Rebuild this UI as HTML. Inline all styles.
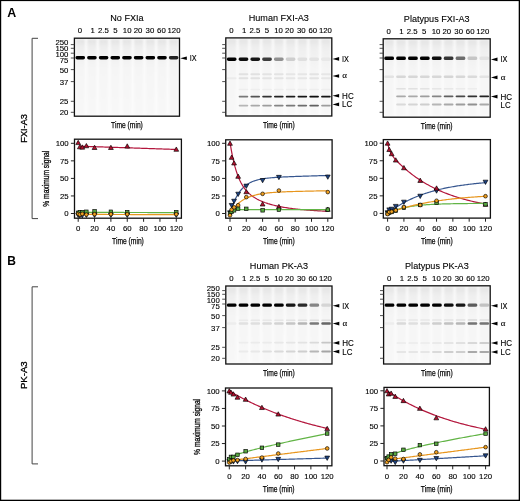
<!DOCTYPE html><html><head><meta charset="utf-8"><style>html,body{margin:0;padding:0;background:#fff;width:520px;height:501px;overflow:hidden;position:relative}</style></head><body><svg width="520" height="501" viewBox="0 0 520 501" style="position:absolute;left:0;top:0;will-change:transform">
<defs><filter id="bl1" x="-20%" y="-5%" width="140%" height="110%"><feGaussianBlur stdDeviation="0.8"/></filter><filter id="bl2" x="-30%" y="-100%" width="160%" height="300%"><feGaussianBlur stdDeviation="0.75 0.55"/></filter><linearGradient id="lanegrad" x1="0" y1="0" x2="0" y2="1"><stop offset="0" stop-color="#e3e3e3"/><stop offset="0.12" stop-color="#efefef"/><stop offset="0.4" stop-color="#f5f5f5"/><stop offset="1" stop-color="#f8f8f8"/></linearGradient></defs>
<rect width="520" height="501" fill="#fff"/>
<rect x="0" y="0" width="1.2" height="501" fill="#000"/><rect x="0" y="0" width="520" height="1.1" fill="#000"/><rect x="518.7" y="0" width="1.3" height="501" fill="#000"/><rect x="0" y="499.7" width="520" height="1.3" fill="#000"/>
<text x="7.20" y="16.50" font-family="Liberation Sans, sans-serif" font-size="12.4" font-weight="bold" text-anchor="start" fill="#000"  >A</text>
<text x="7.20" y="265.30" font-family="Liberation Sans, sans-serif" font-size="12.0" font-weight="bold" text-anchor="start" fill="#000"  >B</text>
<path d="M38,38.3 H32.1 V218.6 H38" fill="none" stroke="#444" stroke-width="1"/>
<path d="M38,286.8 H32.1 V463.9 H38" fill="none" stroke="#444" stroke-width="1"/>
<g transform="translate(23.40,128.40) rotate(-90)"><text x="0" y="3.53" font-family="Liberation Sans, sans-serif" font-size="9.8" text-anchor="middle" textLength="28.6" lengthAdjust="spacingAndGlyphs" fill="#000" stroke="#000" stroke-width="0.3">FXI-A3</text></g>
<g transform="translate(23.10,375.20) rotate(-90)"><text x="0" y="3.53" font-family="Liberation Sans, sans-serif" font-size="9.8" text-anchor="middle" textLength="27.8" lengthAdjust="spacingAndGlyphs" fill="#000" stroke="#000" stroke-width="0.3">PK-A3</text></g>
<text x="126.95" y="21.00" font-family="Liberation Sans, sans-serif" font-size="9.1" font-weight="normal" text-anchor="middle" fill="#000" stroke="#000" stroke-width="0.1" >No FXIa</text>
<text x="79.90" y="33.20" font-family="Liberation Sans, sans-serif" font-size="7.8" font-weight="normal" text-anchor="middle" fill="#000" stroke="#000" stroke-width="0.12" >0</text>
<text x="92.70" y="33.20" font-family="Liberation Sans, sans-serif" font-size="7.8" font-weight="normal" text-anchor="middle" fill="#000" stroke="#000" stroke-width="0.12" >1</text>
<text x="103.40" y="33.20" font-family="Liberation Sans, sans-serif" font-size="7.8" font-weight="normal" text-anchor="middle" fill="#000" stroke="#000" stroke-width="0.12" >2.5</text>
<text x="115.40" y="33.20" font-family="Liberation Sans, sans-serif" font-size="7.8" font-weight="normal" text-anchor="middle" fill="#000" stroke="#000" stroke-width="0.12" >5</text>
<text x="127.20" y="33.20" font-family="Liberation Sans, sans-serif" font-size="7.8" font-weight="normal" text-anchor="middle" fill="#000" stroke="#000" stroke-width="0.12" >10</text>
<text x="138.00" y="33.20" font-family="Liberation Sans, sans-serif" font-size="7.8" font-weight="normal" text-anchor="middle" fill="#000" stroke="#000" stroke-width="0.12" >20</text>
<text x="149.90" y="33.20" font-family="Liberation Sans, sans-serif" font-size="7.8" font-weight="normal" text-anchor="middle" fill="#000" stroke="#000" stroke-width="0.12" >30</text>
<text x="161.40" y="33.20" font-family="Liberation Sans, sans-serif" font-size="7.8" font-weight="normal" text-anchor="middle" fill="#000" stroke="#000" stroke-width="0.12" >60</text>
<text x="174.00" y="33.20" font-family="Liberation Sans, sans-serif" font-size="7.8" font-weight="normal" text-anchor="middle" fill="#000" stroke="#000" stroke-width="0.12" >120</text>
<rect x="74.4" y="38.2" width="105.1" height="78.0" fill="#fcfcfc"/>
<rect x="75.50" y="39.2" width="9.48" height="76.0" fill="url(#lanegrad)" filter="url(#bl1)"/>
<rect x="87.18" y="39.2" width="9.48" height="76.0" fill="url(#lanegrad)" filter="url(#bl1)"/>
<rect x="98.86" y="39.2" width="9.48" height="76.0" fill="url(#lanegrad)" filter="url(#bl1)"/>
<rect x="110.53" y="39.2" width="9.48" height="76.0" fill="url(#lanegrad)" filter="url(#bl1)"/>
<rect x="122.21" y="39.2" width="9.48" height="76.0" fill="url(#lanegrad)" filter="url(#bl1)"/>
<rect x="133.89" y="39.2" width="9.48" height="76.0" fill="url(#lanegrad)" filter="url(#bl1)"/>
<rect x="145.57" y="39.2" width="9.48" height="76.0" fill="url(#lanegrad)" filter="url(#bl1)"/>
<rect x="157.24" y="39.2" width="9.48" height="76.0" fill="url(#lanegrad)" filter="url(#bl1)"/>
<rect x="168.92" y="39.2" width="9.48" height="76.0" fill="url(#lanegrad)" filter="url(#bl1)"/>
<rect x="75.50" y="55.90" width="9.48" height="3.6" rx="1.80" ry="1.44" fill="rgb(0,0,0)" filter="url(#bl2)"/>
<rect x="87.18" y="55.90" width="9.48" height="3.6" rx="1.80" ry="1.44" fill="rgb(0,0,0)" filter="url(#bl2)"/>
<rect x="98.86" y="55.90" width="9.48" height="3.6" rx="1.80" ry="1.44" fill="rgb(0,0,0)" filter="url(#bl2)"/>
<rect x="110.53" y="55.90" width="9.48" height="3.6" rx="1.80" ry="1.44" fill="rgb(0,0,0)" filter="url(#bl2)"/>
<rect x="122.21" y="55.90" width="9.48" height="3.6" rx="1.80" ry="1.44" fill="rgb(0,0,0)" filter="url(#bl2)"/>
<rect x="133.89" y="55.90" width="9.48" height="3.6" rx="1.80" ry="1.44" fill="rgb(0,0,0)" filter="url(#bl2)"/>
<rect x="145.57" y="55.90" width="9.48" height="3.6" rx="1.80" ry="1.44" fill="rgb(0,0,0)" filter="url(#bl2)"/>
<rect x="157.24" y="55.90" width="9.48" height="3.6" rx="1.80" ry="1.44" fill="rgb(0,0,0)" filter="url(#bl2)"/>
<rect x="168.92" y="55.90" width="9.48" height="3.6" rx="1.80" ry="1.44" fill="rgb(36,36,36)" filter="url(#bl2)"/>
<rect x="74.4" y="38.2" width="105.1" height="78.0" fill="none" stroke="#111" stroke-width="1.3"/>
<line x1="70.80000000000001" y1="44.60" x2="74.4" y2="44.60" stroke="#333" stroke-width="0.85"/>
<line x1="70.80000000000001" y1="48.30" x2="74.4" y2="48.30" stroke="#333" stroke-width="0.85"/>
<line x1="70.80000000000001" y1="53.20" x2="74.4" y2="53.20" stroke="#333" stroke-width="0.85"/>
<line x1="70.80000000000001" y1="58.00" x2="74.4" y2="58.00" stroke="#333" stroke-width="0.85"/>
<line x1="70.80000000000001" y1="69.60" x2="74.4" y2="69.60" stroke="#333" stroke-width="0.85"/>
<line x1="70.80000000000001" y1="81.60" x2="74.4" y2="81.60" stroke="#333" stroke-width="0.85"/>
<line x1="70.80000000000001" y1="101.30" x2="74.4" y2="101.30" stroke="#333" stroke-width="0.85"/>
<line x1="70.80000000000001" y1="112.30" x2="74.4" y2="112.30" stroke="#333" stroke-width="0.85"/>
<text x="68.40" y="45.30" font-family="Liberation Sans, sans-serif" font-size="7.8" font-weight="normal" text-anchor="end" fill="#000" stroke="#000" stroke-width="0.12" >250</text>
<text x="68.40" y="51.10" font-family="Liberation Sans, sans-serif" font-size="7.8" font-weight="normal" text-anchor="end" fill="#000" stroke="#000" stroke-width="0.12" >150</text>
<text x="68.40" y="57.00" font-family="Liberation Sans, sans-serif" font-size="7.8" font-weight="normal" text-anchor="end" fill="#000" stroke="#000" stroke-width="0.12" >100</text>
<text x="68.40" y="63.00" font-family="Liberation Sans, sans-serif" font-size="7.8" font-weight="normal" text-anchor="end" fill="#000" stroke="#000" stroke-width="0.12" >75</text>
<text x="68.40" y="73.20" font-family="Liberation Sans, sans-serif" font-size="7.8" font-weight="normal" text-anchor="end" fill="#000" stroke="#000" stroke-width="0.12" >50</text>
<text x="68.40" y="84.70" font-family="Liberation Sans, sans-serif" font-size="7.8" font-weight="normal" text-anchor="end" fill="#000" stroke="#000" stroke-width="0.12" >37</text>
<text x="68.40" y="103.90" font-family="Liberation Sans, sans-serif" font-size="7.8" font-weight="normal" text-anchor="end" fill="#000" stroke="#000" stroke-width="0.12" >25</text>
<text x="68.40" y="114.90" font-family="Liberation Sans, sans-serif" font-size="7.8" font-weight="normal" text-anchor="end" fill="#000" stroke="#000" stroke-width="0.12" >20</text>
<path d="M180.2,58.20 L186.8,56.40 L186.8,60.00 Z" fill="#000"/>
<text x="189.80" y="61.10" font-family="Liberation Sans, sans-serif" font-size="8.6" font-weight="normal" text-anchor="start" fill="#000" stroke="#000" stroke-width="0.12" textLength="6.9" lengthAdjust="spacingAndGlyphs">IX</text>
<text x="111.05" y="127.70" font-family="Liberation Sans, sans-serif" font-size="9.6" textLength="31.8" lengthAdjust="spacingAndGlyphs" fill="#000" stroke="#000" stroke-width="0.25">Time (min)</text>
<text x="278.80" y="20.70" font-family="Liberation Sans, sans-serif" font-size="9.1" font-weight="normal" text-anchor="middle" fill="#000" stroke="#000" stroke-width="0.1" >Human FXI-A3</text>
<text x="231.30" y="32.90" font-family="Liberation Sans, sans-serif" font-size="7.8" font-weight="normal" text-anchor="middle" fill="#000" stroke="#000" stroke-width="0.12" >0</text>
<text x="244.10" y="32.90" font-family="Liberation Sans, sans-serif" font-size="7.8" font-weight="normal" text-anchor="middle" fill="#000" stroke="#000" stroke-width="0.12" >1</text>
<text x="254.80" y="32.90" font-family="Liberation Sans, sans-serif" font-size="7.8" font-weight="normal" text-anchor="middle" fill="#000" stroke="#000" stroke-width="0.12" >2.5</text>
<text x="266.80" y="32.90" font-family="Liberation Sans, sans-serif" font-size="7.8" font-weight="normal" text-anchor="middle" fill="#000" stroke="#000" stroke-width="0.12" >5</text>
<text x="278.60" y="32.90" font-family="Liberation Sans, sans-serif" font-size="7.8" font-weight="normal" text-anchor="middle" fill="#000" stroke="#000" stroke-width="0.12" >10</text>
<text x="289.40" y="32.90" font-family="Liberation Sans, sans-serif" font-size="7.8" font-weight="normal" text-anchor="middle" fill="#000" stroke="#000" stroke-width="0.12" >20</text>
<text x="301.30" y="32.90" font-family="Liberation Sans, sans-serif" font-size="7.8" font-weight="normal" text-anchor="middle" fill="#000" stroke="#000" stroke-width="0.12" >30</text>
<text x="312.80" y="32.90" font-family="Liberation Sans, sans-serif" font-size="7.8" font-weight="normal" text-anchor="middle" fill="#000" stroke="#000" stroke-width="0.12" >60</text>
<text x="325.40" y="32.90" font-family="Liberation Sans, sans-serif" font-size="7.8" font-weight="normal" text-anchor="middle" fill="#000" stroke="#000" stroke-width="0.12" >120</text>
<rect x="225.8" y="37.9" width="106.0" height="78.1" fill="#fcfcfc"/>
<rect x="226.90" y="38.9" width="9.58" height="76.1" fill="url(#lanegrad)" filter="url(#bl1)"/>
<rect x="238.68" y="38.9" width="9.58" height="76.1" fill="url(#lanegrad)" filter="url(#bl1)"/>
<rect x="250.46" y="38.9" width="9.58" height="76.1" fill="url(#lanegrad)" filter="url(#bl1)"/>
<rect x="262.23" y="38.9" width="9.58" height="76.1" fill="url(#lanegrad)" filter="url(#bl1)"/>
<rect x="274.01" y="38.9" width="9.58" height="76.1" fill="url(#lanegrad)" filter="url(#bl1)"/>
<rect x="285.79" y="38.9" width="9.58" height="76.1" fill="url(#lanegrad)" filter="url(#bl1)"/>
<rect x="297.57" y="38.9" width="9.58" height="76.1" fill="url(#lanegrad)" filter="url(#bl1)"/>
<rect x="309.34" y="38.9" width="9.58" height="76.1" fill="url(#lanegrad)" filter="url(#bl1)"/>
<rect x="321.12" y="38.9" width="9.58" height="76.1" fill="url(#lanegrad)" filter="url(#bl1)"/>
<rect x="226.90" y="57.40" width="9.58" height="3.6" rx="1.80" ry="1.44" fill="rgb(0,0,0)" filter="url(#bl2)"/>
<rect x="238.68" y="57.40" width="9.58" height="3.6" rx="1.80" ry="1.44" fill="rgb(12,12,12)" filter="url(#bl2)"/>
<rect x="250.46" y="57.40" width="9.58" height="3.6" rx="1.80" ry="1.44" fill="rgb(24,24,24)" filter="url(#bl2)"/>
<rect x="262.23" y="57.40" width="9.58" height="3.6" rx="1.80" ry="1.44" fill="rgb(60,60,60)" filter="url(#bl2)"/>
<rect x="274.01" y="57.40" width="9.58" height="3.6" rx="1.80" ry="1.44" fill="rgb(145,145,145)" filter="url(#bl2)"/>
<rect x="285.79" y="57.40" width="9.58" height="3.6" rx="1.80" ry="1.44" fill="rgb(206,206,206)" filter="url(#bl2)"/>
<rect x="297.57" y="57.40" width="9.58" height="3.6" rx="1.80" ry="1.44" fill="rgb(223,223,223)" filter="url(#bl2)"/>
<rect x="309.34" y="57.40" width="9.58" height="3.6" rx="1.80" ry="1.44" fill="rgb(227,227,227)" filter="url(#bl2)"/>
<rect x="321.12" y="57.40" width="9.58" height="3.6" rx="1.80" ry="1.44" fill="rgb(232,232,232)" filter="url(#bl2)"/>
<rect x="238.68" y="73.35" width="9.58" height="1.9" rx="0.95" ry="0.76" fill="rgb(225,225,225)" filter="url(#bl2)"/>
<rect x="250.46" y="73.35" width="9.58" height="1.9" rx="0.95" ry="0.76" fill="rgb(225,225,225)" filter="url(#bl2)"/>
<rect x="262.23" y="73.35" width="9.58" height="1.9" rx="0.95" ry="0.76" fill="rgb(227,227,227)" filter="url(#bl2)"/>
<rect x="274.01" y="73.35" width="9.58" height="1.9" rx="0.95" ry="0.76" fill="rgb(227,227,227)" filter="url(#bl2)"/>
<rect x="285.79" y="73.35" width="9.58" height="1.9" rx="0.95" ry="0.76" fill="rgb(230,230,230)" filter="url(#bl2)"/>
<rect x="297.57" y="73.35" width="9.58" height="1.9" rx="0.95" ry="0.76" fill="rgb(230,230,230)" filter="url(#bl2)"/>
<rect x="309.34" y="73.35" width="9.58" height="1.9" rx="0.95" ry="0.76" fill="rgb(227,227,227)" filter="url(#bl2)"/>
<rect x="321.12" y="73.35" width="9.58" height="1.9" rx="0.95" ry="0.76" fill="rgb(230,230,230)" filter="url(#bl2)"/>
<rect x="226.90" y="77.25" width="9.58" height="1.9" rx="0.95" ry="0.76" fill="rgb(235,235,235)" filter="url(#bl2)"/>
<rect x="238.68" y="77.25" width="9.58" height="1.9" rx="0.95" ry="0.76" fill="rgb(225,225,225)" filter="url(#bl2)"/>
<rect x="250.46" y="77.25" width="9.58" height="1.9" rx="0.95" ry="0.76" fill="rgb(225,225,225)" filter="url(#bl2)"/>
<rect x="262.23" y="77.25" width="9.58" height="1.9" rx="0.95" ry="0.76" fill="rgb(227,227,227)" filter="url(#bl2)"/>
<rect x="274.01" y="77.25" width="9.58" height="1.9" rx="0.95" ry="0.76" fill="rgb(227,227,227)" filter="url(#bl2)"/>
<rect x="285.79" y="77.25" width="9.58" height="1.9" rx="0.95" ry="0.76" fill="rgb(230,230,230)" filter="url(#bl2)"/>
<rect x="297.57" y="77.25" width="9.58" height="1.9" rx="0.95" ry="0.76" fill="rgb(230,230,230)" filter="url(#bl2)"/>
<rect x="309.34" y="77.25" width="9.58" height="1.9" rx="0.95" ry="0.76" fill="rgb(227,227,227)" filter="url(#bl2)"/>
<rect x="321.12" y="77.25" width="9.58" height="1.9" rx="0.95" ry="0.76" fill="rgb(230,230,230)" filter="url(#bl2)"/>
<rect x="238.68" y="88.65" width="9.58" height="1.5" rx="0.75" ry="0.60" fill="rgb(238,238,238)" filter="url(#bl2)"/>
<rect x="250.46" y="88.65" width="9.58" height="1.5" rx="0.75" ry="0.60" fill="rgb(238,238,238)" filter="url(#bl2)"/>
<rect x="262.23" y="88.65" width="9.58" height="1.5" rx="0.75" ry="0.60" fill="rgb(238,238,238)" filter="url(#bl2)"/>
<rect x="274.01" y="88.65" width="9.58" height="1.5" rx="0.75" ry="0.60" fill="rgb(238,238,238)" filter="url(#bl2)"/>
<rect x="285.79" y="88.65" width="9.58" height="1.5" rx="0.75" ry="0.60" fill="rgb(238,238,238)" filter="url(#bl2)"/>
<rect x="297.57" y="88.65" width="9.58" height="1.5" rx="0.75" ry="0.60" fill="rgb(238,238,238)" filter="url(#bl2)"/>
<rect x="309.34" y="88.65" width="9.58" height="1.5" rx="0.75" ry="0.60" fill="rgb(238,238,238)" filter="url(#bl2)"/>
<rect x="321.12" y="88.65" width="9.58" height="1.5" rx="0.75" ry="0.60" fill="rgb(238,238,238)" filter="url(#bl2)"/>
<rect x="238.68" y="95.75" width="9.58" height="1.7" rx="0.85" ry="0.68" fill="rgb(121,121,121)" filter="url(#bl2)"/>
<rect x="250.46" y="95.75" width="9.58" height="1.7" rx="0.85" ry="0.68" fill="rgb(85,85,85)" filter="url(#bl2)"/>
<rect x="262.23" y="95.75" width="9.58" height="1.7" rx="0.85" ry="0.68" fill="rgb(48,48,48)" filter="url(#bl2)"/>
<rect x="274.01" y="95.75" width="9.58" height="1.7" rx="0.85" ry="0.68" fill="rgb(36,36,36)" filter="url(#bl2)"/>
<rect x="285.79" y="95.75" width="9.58" height="1.7" rx="0.85" ry="0.68" fill="rgb(31,31,31)" filter="url(#bl2)"/>
<rect x="297.57" y="95.75" width="9.58" height="1.7" rx="0.85" ry="0.68" fill="rgb(24,24,24)" filter="url(#bl2)"/>
<rect x="309.34" y="95.75" width="9.58" height="1.7" rx="0.85" ry="0.68" fill="rgb(12,12,12)" filter="url(#bl2)"/>
<rect x="321.12" y="95.75" width="9.58" height="1.7" rx="0.85" ry="0.68" fill="rgb(19,19,19)" filter="url(#bl2)"/>
<rect x="238.68" y="104.65" width="9.58" height="1.9" rx="0.95" ry="0.76" fill="rgb(182,182,182)" filter="url(#bl2)"/>
<rect x="250.46" y="104.65" width="9.58" height="1.9" rx="0.95" ry="0.76" fill="rgb(169,169,169)" filter="url(#bl2)"/>
<rect x="262.23" y="104.65" width="9.58" height="1.9" rx="0.95" ry="0.76" fill="rgb(157,157,157)" filter="url(#bl2)"/>
<rect x="274.01" y="104.65" width="9.58" height="1.9" rx="0.95" ry="0.76" fill="rgb(133,133,133)" filter="url(#bl2)"/>
<rect x="285.79" y="104.65" width="9.58" height="1.9" rx="0.95" ry="0.76" fill="rgb(121,121,121)" filter="url(#bl2)"/>
<rect x="297.57" y="104.65" width="9.58" height="1.9" rx="0.95" ry="0.76" fill="rgb(109,109,109)" filter="url(#bl2)"/>
<rect x="309.34" y="104.65" width="9.58" height="1.9" rx="0.95" ry="0.76" fill="rgb(97,97,97)" filter="url(#bl2)"/>
<rect x="321.12" y="104.65" width="9.58" height="1.9" rx="0.95" ry="0.76" fill="rgb(157,157,157)" filter="url(#bl2)"/>
<rect x="225.8" y="37.9" width="106.0" height="78.1" fill="none" stroke="#111" stroke-width="1.3"/>
<line x1="222.20000000000002" y1="44.60" x2="225.8" y2="44.60" stroke="#333" stroke-width="0.85"/>
<line x1="222.20000000000002" y1="48.30" x2="225.8" y2="48.30" stroke="#333" stroke-width="0.85"/>
<line x1="222.20000000000002" y1="53.20" x2="225.8" y2="53.20" stroke="#333" stroke-width="0.85"/>
<line x1="222.20000000000002" y1="58.00" x2="225.8" y2="58.00" stroke="#333" stroke-width="0.85"/>
<line x1="222.20000000000002" y1="69.60" x2="225.8" y2="69.60" stroke="#333" stroke-width="0.85"/>
<line x1="222.20000000000002" y1="81.60" x2="225.8" y2="81.60" stroke="#333" stroke-width="0.85"/>
<line x1="222.20000000000002" y1="101.30" x2="225.8" y2="101.30" stroke="#333" stroke-width="0.85"/>
<line x1="222.20000000000002" y1="112.30" x2="225.8" y2="112.30" stroke="#333" stroke-width="0.85"/>
<path d="M332.5,58.90 L339.1,57.10 L339.1,60.70 Z" fill="#000"/>
<text x="342.10" y="61.80" font-family="Liberation Sans, sans-serif" font-size="8.6" font-weight="normal" text-anchor="start" fill="#000" stroke="#000" stroke-width="0.12" textLength="6.9" lengthAdjust="spacingAndGlyphs">IX</text>
<path d="M332.5,76.00 L339.1,74.20 L339.1,77.80 Z" fill="#000"/>
<text x="342.30" y="78.30" font-family="Liberation Serif, sans-serif" font-size="9.0" font-weight="normal" text-anchor="start" fill="#000" stroke="#000" stroke-width="0.1" >α</text>
<path d="M332.5,95.80 L339.1,94.00 L339.1,97.60 Z" fill="#000"/>
<text x="342.10" y="98.70" font-family="Liberation Sans, sans-serif" font-size="8.6" font-weight="normal" text-anchor="start" fill="#000" stroke="#000" stroke-width="0.12" textLength="11.6" lengthAdjust="spacingAndGlyphs">HC</text>
<path d="M332.5,104.40 L339.1,102.60 L339.1,106.20 Z" fill="#000"/>
<text x="342.10" y="107.30" font-family="Liberation Sans, sans-serif" font-size="8.6" font-weight="normal" text-anchor="start" fill="#000" stroke="#000" stroke-width="0.12" textLength="10.1" lengthAdjust="spacingAndGlyphs">LC</text>
<text x="262.90" y="127.50" font-family="Liberation Sans, sans-serif" font-size="9.6" textLength="31.8" lengthAdjust="spacingAndGlyphs" fill="#000" stroke="#000" stroke-width="0.25">Time (min)</text>
<text x="436.70" y="21.60" font-family="Liberation Sans, sans-serif" font-size="9.1" font-weight="normal" text-anchor="middle" fill="#000" stroke="#000" stroke-width="0.1" >Platypus FXI-A3</text>
<text x="388.70" y="33.80" font-family="Liberation Sans, sans-serif" font-size="7.8" font-weight="normal" text-anchor="middle" fill="#000" stroke="#000" stroke-width="0.12" >0</text>
<text x="401.50" y="33.80" font-family="Liberation Sans, sans-serif" font-size="7.8" font-weight="normal" text-anchor="middle" fill="#000" stroke="#000" stroke-width="0.12" >1</text>
<text x="412.20" y="33.80" font-family="Liberation Sans, sans-serif" font-size="7.8" font-weight="normal" text-anchor="middle" fill="#000" stroke="#000" stroke-width="0.12" >2.5</text>
<text x="424.20" y="33.80" font-family="Liberation Sans, sans-serif" font-size="7.8" font-weight="normal" text-anchor="middle" fill="#000" stroke="#000" stroke-width="0.12" >5</text>
<text x="436.00" y="33.80" font-family="Liberation Sans, sans-serif" font-size="7.8" font-weight="normal" text-anchor="middle" fill="#000" stroke="#000" stroke-width="0.12" >10</text>
<text x="446.80" y="33.80" font-family="Liberation Sans, sans-serif" font-size="7.8" font-weight="normal" text-anchor="middle" fill="#000" stroke="#000" stroke-width="0.12" >20</text>
<text x="458.70" y="33.80" font-family="Liberation Sans, sans-serif" font-size="7.8" font-weight="normal" text-anchor="middle" fill="#000" stroke="#000" stroke-width="0.12" >30</text>
<text x="470.20" y="33.80" font-family="Liberation Sans, sans-serif" font-size="7.8" font-weight="normal" text-anchor="middle" fill="#000" stroke="#000" stroke-width="0.12" >60</text>
<text x="482.80" y="33.80" font-family="Liberation Sans, sans-serif" font-size="7.8" font-weight="normal" text-anchor="middle" fill="#000" stroke="#000" stroke-width="0.12" >120</text>
<rect x="383.2" y="38.8" width="107.0" height="78.4" fill="#fcfcfc"/>
<rect x="384.30" y="39.8" width="9.69" height="76.4" fill="url(#lanegrad)" filter="url(#bl1)"/>
<rect x="396.19" y="39.8" width="9.69" height="76.4" fill="url(#lanegrad)" filter="url(#bl1)"/>
<rect x="408.08" y="39.8" width="9.69" height="76.4" fill="url(#lanegrad)" filter="url(#bl1)"/>
<rect x="419.97" y="39.8" width="9.69" height="76.4" fill="url(#lanegrad)" filter="url(#bl1)"/>
<rect x="431.86" y="39.8" width="9.69" height="76.4" fill="url(#lanegrad)" filter="url(#bl1)"/>
<rect x="443.74" y="39.8" width="9.69" height="76.4" fill="url(#lanegrad)" filter="url(#bl1)"/>
<rect x="455.63" y="39.8" width="9.69" height="76.4" fill="url(#lanegrad)" filter="url(#bl1)"/>
<rect x="467.52" y="39.8" width="9.69" height="76.4" fill="url(#lanegrad)" filter="url(#bl1)"/>
<rect x="479.41" y="39.8" width="9.69" height="76.4" fill="url(#lanegrad)" filter="url(#bl1)"/>
<rect x="384.30" y="56.50" width="9.69" height="3.6" rx="1.80" ry="1.44" fill="rgb(0,0,0)" filter="url(#bl2)"/>
<rect x="396.19" y="56.50" width="9.69" height="3.6" rx="1.80" ry="1.44" fill="rgb(0,0,0)" filter="url(#bl2)"/>
<rect x="408.08" y="56.50" width="9.69" height="3.6" rx="1.80" ry="1.44" fill="rgb(0,0,0)" filter="url(#bl2)"/>
<rect x="419.97" y="56.50" width="9.69" height="3.6" rx="1.80" ry="1.44" fill="rgb(0,0,0)" filter="url(#bl2)"/>
<rect x="431.86" y="56.50" width="9.69" height="3.6" rx="1.80" ry="1.44" fill="rgb(12,12,12)" filter="url(#bl2)"/>
<rect x="443.74" y="56.50" width="9.69" height="3.6" rx="1.80" ry="1.44" fill="rgb(53,53,53)" filter="url(#bl2)"/>
<rect x="455.63" y="56.50" width="9.69" height="3.6" rx="1.80" ry="1.44" fill="rgb(109,109,109)" filter="url(#bl2)"/>
<rect x="467.52" y="56.50" width="9.69" height="3.6" rx="1.80" ry="1.44" fill="rgb(198,198,198)" filter="url(#bl2)"/>
<rect x="479.41" y="56.50" width="9.69" height="3.6" rx="1.80" ry="1.44" fill="rgb(227,227,227)" filter="url(#bl2)"/>
<rect x="384.30" y="75.40" width="9.69" height="2.6" rx="1.30" ry="1.04" fill="rgb(227,227,227)" filter="url(#bl2)"/>
<rect x="396.19" y="75.40" width="9.69" height="2.6" rx="1.30" ry="1.04" fill="rgb(215,215,215)" filter="url(#bl2)"/>
<rect x="408.08" y="75.40" width="9.69" height="2.6" rx="1.30" ry="1.04" fill="rgb(215,215,215)" filter="url(#bl2)"/>
<rect x="419.97" y="75.40" width="9.69" height="2.6" rx="1.30" ry="1.04" fill="rgb(215,215,215)" filter="url(#bl2)"/>
<rect x="431.86" y="75.40" width="9.69" height="2.6" rx="1.30" ry="1.04" fill="rgb(215,215,215)" filter="url(#bl2)"/>
<rect x="443.74" y="75.40" width="9.69" height="2.6" rx="1.30" ry="1.04" fill="rgb(213,213,213)" filter="url(#bl2)"/>
<rect x="455.63" y="75.40" width="9.69" height="2.6" rx="1.30" ry="1.04" fill="rgb(215,215,215)" filter="url(#bl2)"/>
<rect x="467.52" y="75.40" width="9.69" height="2.6" rx="1.30" ry="1.04" fill="rgb(218,218,218)" filter="url(#bl2)"/>
<rect x="479.41" y="75.40" width="9.69" height="2.6" rx="1.30" ry="1.04" fill="rgb(227,227,227)" filter="url(#bl2)"/>
<rect x="396.19" y="88.00" width="9.69" height="1.6" rx="0.80" ry="0.64" fill="rgb(225,225,225)" filter="url(#bl2)"/>
<rect x="408.08" y="88.00" width="9.69" height="1.6" rx="0.80" ry="0.64" fill="rgb(225,225,225)" filter="url(#bl2)"/>
<rect x="419.97" y="88.00" width="9.69" height="1.6" rx="0.80" ry="0.64" fill="rgb(227,227,227)" filter="url(#bl2)"/>
<rect x="431.86" y="88.00" width="9.69" height="1.6" rx="0.80" ry="0.64" fill="rgb(230,230,230)" filter="url(#bl2)"/>
<rect x="443.74" y="88.00" width="9.69" height="1.6" rx="0.80" ry="0.64" fill="rgb(232,232,232)" filter="url(#bl2)"/>
<rect x="455.63" y="88.00" width="9.69" height="1.6" rx="0.80" ry="0.64" fill="rgb(235,235,235)" filter="url(#bl2)"/>
<rect x="467.52" y="88.00" width="9.69" height="1.6" rx="0.80" ry="0.64" fill="rgb(237,237,237)" filter="url(#bl2)"/>
<rect x="396.19" y="95.55" width="9.69" height="1.7" rx="0.85" ry="0.68" fill="rgb(169,169,169)" filter="url(#bl2)"/>
<rect x="408.08" y="95.55" width="9.69" height="1.7" rx="0.85" ry="0.68" fill="rgb(169,169,169)" filter="url(#bl2)"/>
<rect x="419.97" y="95.55" width="9.69" height="1.7" rx="0.85" ry="0.68" fill="rgb(157,157,157)" filter="url(#bl2)"/>
<rect x="431.86" y="95.55" width="9.69" height="1.7" rx="0.85" ry="0.68" fill="rgb(133,133,133)" filter="url(#bl2)"/>
<rect x="443.74" y="95.55" width="9.69" height="1.7" rx="0.85" ry="0.68" fill="rgb(97,97,97)" filter="url(#bl2)"/>
<rect x="455.63" y="95.55" width="9.69" height="1.7" rx="0.85" ry="0.68" fill="rgb(73,73,73)" filter="url(#bl2)"/>
<rect x="467.52" y="95.55" width="9.69" height="1.7" rx="0.85" ry="0.68" fill="rgb(48,48,48)" filter="url(#bl2)"/>
<rect x="479.41" y="95.55" width="9.69" height="1.7" rx="0.85" ry="0.68" fill="rgb(36,36,36)" filter="url(#bl2)"/>
<rect x="396.19" y="103.55" width="9.69" height="1.9" rx="0.95" ry="0.76" fill="rgb(218,218,218)" filter="url(#bl2)"/>
<rect x="408.08" y="103.55" width="9.69" height="1.9" rx="0.95" ry="0.76" fill="rgb(213,213,213)" filter="url(#bl2)"/>
<rect x="419.97" y="103.55" width="9.69" height="1.9" rx="0.95" ry="0.76" fill="rgb(206,206,206)" filter="url(#bl2)"/>
<rect x="431.86" y="103.55" width="9.69" height="1.9" rx="0.95" ry="0.76" fill="rgb(182,182,182)" filter="url(#bl2)"/>
<rect x="443.74" y="103.55" width="9.69" height="1.9" rx="0.95" ry="0.76" fill="rgb(169,169,169)" filter="url(#bl2)"/>
<rect x="455.63" y="103.55" width="9.69" height="1.9" rx="0.95" ry="0.76" fill="rgb(157,157,157)" filter="url(#bl2)"/>
<rect x="467.52" y="103.55" width="9.69" height="1.9" rx="0.95" ry="0.76" fill="rgb(145,145,145)" filter="url(#bl2)"/>
<rect x="479.41" y="103.55" width="9.69" height="1.9" rx="0.95" ry="0.76" fill="rgb(169,169,169)" filter="url(#bl2)"/>
<rect x="383.2" y="38.8" width="107.0" height="78.4" fill="none" stroke="#111" stroke-width="1.3"/>
<line x1="379.59999999999997" y1="44.60" x2="383.2" y2="44.60" stroke="#333" stroke-width="0.85"/>
<line x1="379.59999999999997" y1="48.30" x2="383.2" y2="48.30" stroke="#333" stroke-width="0.85"/>
<line x1="379.59999999999997" y1="53.20" x2="383.2" y2="53.20" stroke="#333" stroke-width="0.85"/>
<line x1="379.59999999999997" y1="58.00" x2="383.2" y2="58.00" stroke="#333" stroke-width="0.85"/>
<line x1="379.59999999999997" y1="69.60" x2="383.2" y2="69.60" stroke="#333" stroke-width="0.85"/>
<line x1="379.59999999999997" y1="81.60" x2="383.2" y2="81.60" stroke="#333" stroke-width="0.85"/>
<line x1="379.59999999999997" y1="101.30" x2="383.2" y2="101.30" stroke="#333" stroke-width="0.85"/>
<line x1="379.59999999999997" y1="112.30" x2="383.2" y2="112.30" stroke="#333" stroke-width="0.85"/>
<path d="M490.9,59.40 L497.5,57.60 L497.5,61.20 Z" fill="#000"/>
<text x="500.50" y="62.30" font-family="Liberation Sans, sans-serif" font-size="8.6" font-weight="normal" text-anchor="start" fill="#000" stroke="#000" stroke-width="0.12" textLength="6.9" lengthAdjust="spacingAndGlyphs">IX</text>
<path d="M490.9,77.40 L497.5,75.60 L497.5,79.20 Z" fill="#000"/>
<text x="500.70" y="79.70" font-family="Liberation Serif, sans-serif" font-size="9.0" font-weight="normal" text-anchor="start" fill="#000" stroke="#000" stroke-width="0.1" >α</text>
<path d="M490.9,96.60 L497.5,94.80 L497.5,98.40 Z" fill="#000"/>
<text x="500.50" y="99.50" font-family="Liberation Sans, sans-serif" font-size="8.6" font-weight="normal" text-anchor="start" fill="#000" stroke="#000" stroke-width="0.12" textLength="11.6" lengthAdjust="spacingAndGlyphs">HC</text>
<text x="500.50" y="107.70" font-family="Liberation Sans, sans-serif" font-size="8.6" font-weight="normal" text-anchor="start" fill="#000" stroke="#000" stroke-width="0.12" textLength="10.1" lengthAdjust="spacingAndGlyphs">LC</text>
<text x="420.80" y="128.70" font-family="Liberation Sans, sans-serif" font-size="9.6" textLength="31.8" lengthAdjust="spacingAndGlyphs" fill="#000" stroke="#000" stroke-width="0.25">Time (min)</text>
<rect x="74.5" y="139.2" width="106.9" height="79.0" fill="none" stroke="#111" stroke-width="1.3"/>
<line x1="70.9" y1="213.50" x2="74.5" y2="213.50" stroke="#222" stroke-width="1"/>
<text x="68.70" y="216.30" font-family="Liberation Sans, sans-serif" font-size="7.8" font-weight="normal" text-anchor="end" fill="#000" stroke="#000" stroke-width="0.12" >0</text>
<line x1="70.9" y1="195.95" x2="74.5" y2="195.95" stroke="#222" stroke-width="1"/>
<text x="68.70" y="198.75" font-family="Liberation Sans, sans-serif" font-size="7.8" font-weight="normal" text-anchor="end" fill="#000" stroke="#000" stroke-width="0.12" >25</text>
<line x1="70.9" y1="178.40" x2="74.5" y2="178.40" stroke="#222" stroke-width="1"/>
<text x="68.70" y="181.20" font-family="Liberation Sans, sans-serif" font-size="7.8" font-weight="normal" text-anchor="end" fill="#000" stroke="#000" stroke-width="0.12" >50</text>
<line x1="70.9" y1="160.85" x2="74.5" y2="160.85" stroke="#222" stroke-width="1"/>
<text x="68.70" y="163.65" font-family="Liberation Sans, sans-serif" font-size="7.8" font-weight="normal" text-anchor="end" fill="#000" stroke="#000" stroke-width="0.12" >75</text>
<line x1="70.9" y1="143.30" x2="74.5" y2="143.30" stroke="#222" stroke-width="1"/>
<text x="68.70" y="146.10" font-family="Liberation Sans, sans-serif" font-size="7.8" font-weight="normal" text-anchor="end" fill="#000" stroke="#000" stroke-width="0.12" >100</text>
<line x1="78.20" y1="218.2" x2="78.20" y2="221.79999999999998" stroke="#222" stroke-width="1"/>
<text x="78.20" y="231.20" font-family="Liberation Sans, sans-serif" font-size="7.8" font-weight="normal" text-anchor="middle" fill="#000" stroke="#000" stroke-width="0.12" >0</text>
<line x1="94.55" y1="218.2" x2="94.55" y2="221.79999999999998" stroke="#222" stroke-width="1"/>
<text x="94.55" y="231.20" font-family="Liberation Sans, sans-serif" font-size="7.8" font-weight="normal" text-anchor="middle" fill="#000" stroke="#000" stroke-width="0.12" >20</text>
<line x1="110.90" y1="218.2" x2="110.90" y2="221.79999999999998" stroke="#222" stroke-width="1"/>
<text x="110.90" y="231.20" font-family="Liberation Sans, sans-serif" font-size="7.8" font-weight="normal" text-anchor="middle" fill="#000" stroke="#000" stroke-width="0.12" >40</text>
<line x1="127.25" y1="218.2" x2="127.25" y2="221.79999999999998" stroke="#222" stroke-width="1"/>
<text x="127.25" y="231.20" font-family="Liberation Sans, sans-serif" font-size="7.8" font-weight="normal" text-anchor="middle" fill="#000" stroke="#000" stroke-width="0.12" >60</text>
<line x1="143.60" y1="218.2" x2="143.60" y2="221.79999999999998" stroke="#222" stroke-width="1"/>
<text x="143.60" y="231.20" font-family="Liberation Sans, sans-serif" font-size="7.8" font-weight="normal" text-anchor="middle" fill="#000" stroke="#000" stroke-width="0.12" >80</text>
<line x1="159.95" y1="218.2" x2="159.95" y2="221.79999999999998" stroke="#222" stroke-width="1"/>
<text x="159.95" y="231.20" font-family="Liberation Sans, sans-serif" font-size="7.8" font-weight="normal" text-anchor="middle" fill="#000" stroke="#000" stroke-width="0.12" >100</text>
<line x1="176.30" y1="218.2" x2="176.30" y2="221.79999999999998" stroke="#222" stroke-width="1"/>
<text x="176.30" y="231.20" font-family="Liberation Sans, sans-serif" font-size="7.8" font-weight="normal" text-anchor="middle" fill="#000" stroke="#000" stroke-width="0.12" >120</text>
<text x="112.05" y="244.20" font-family="Liberation Sans, sans-serif" font-size="9.6" textLength="31.8" lengthAdjust="spacingAndGlyphs" fill="#000" stroke="#000" stroke-width="0.25">Time (min)</text>
<g transform="translate(45.50,178.70) rotate(-90)"><text x="0" y="3.42" font-family="Liberation Sans, sans-serif" font-size="9.5" text-anchor="middle" textLength="56" lengthAdjust="spacingAndGlyphs" fill="#000" stroke="#000" stroke-width="0.3">% maximum signal</text></g>
<path d="M80.65,146.19 L81.88,146.23 L83.11,146.28 L84.33,146.32 L85.56,146.36 L86.78,146.40 L88.01,146.44 L89.24,146.49 L90.46,146.53 L91.69,146.57 L92.92,146.61 L94.14,146.66 L95.37,146.70 L96.59,146.74 L97.82,146.78 L99.05,146.82 L100.27,146.87 L101.50,146.91 L102.73,146.95 L103.95,146.99 L105.18,147.03 L106.40,147.08 L107.63,147.12 L108.86,147.16 L110.08,147.20 L111.31,147.25 L112.54,147.29 L113.76,147.33 L114.99,147.37 L116.21,147.41 L117.44,147.46 L118.67,147.50 L119.89,147.54 L121.12,147.58 L122.34,147.62 L123.57,147.67 L124.80,147.71 L126.02,147.75 L127.25,147.79 L128.48,147.83 L129.70,147.88 L130.93,147.92 L132.16,147.96 L133.38,148.00 L134.61,148.05 L135.83,148.09 L137.06,148.13 L138.29,148.17 L139.51,148.21 L140.74,148.26 L141.97,148.30 L143.19,148.34 L144.42,148.38 L145.64,148.42 L146.87,148.47 L148.10,148.51 L149.32,148.55 L150.55,148.59 L151.78,148.64 L153.00,148.68 L154.23,148.72 L155.45,148.76 L156.68,148.80 L157.91,148.85 L159.13,148.89 L160.36,148.93 L161.59,148.97 L162.81,149.01 L164.04,149.06 L165.26,149.10 L166.49,149.14 L167.72,149.18 L168.94,149.22 L170.17,149.27 L171.40,149.31 L172.62,149.35 L173.85,149.39 L175.07,149.44 L176.30,149.48" fill="none" stroke="#b3163c" stroke-width="1.2"/>
<path d="M83.11,212.39 L84.33,212.39 L85.56,212.39 L86.78,212.40 L88.01,212.40 L89.24,212.40 L90.46,212.40 L91.69,212.41 L92.92,212.41 L94.14,212.41 L95.37,212.41 L96.59,212.42 L97.82,212.42 L99.05,212.42 L100.27,212.42 L101.50,212.43 L102.73,212.43 L103.95,212.43 L105.18,212.43 L106.40,212.44 L107.63,212.44 L108.86,212.44 L110.08,212.45 L111.31,212.45 L112.54,212.45 L113.76,212.45 L114.99,212.46 L116.21,212.46 L117.44,212.46 L118.67,212.46 L119.89,212.47 L121.12,212.47 L122.34,212.47 L123.57,212.47 L124.80,212.48 L126.02,212.48 L127.25,212.48 L128.48,212.48 L129.70,212.49 L130.93,212.49 L132.16,212.49 L133.38,212.50 L134.61,212.50 L135.83,212.50 L137.06,212.50 L138.29,212.51 L139.51,212.51 L140.74,212.51 L141.97,212.51 L143.19,212.52 L144.42,212.52 L145.64,212.52 L146.87,212.52 L148.10,212.53 L149.32,212.53 L150.55,212.53 L151.78,212.53 L153.00,212.54 L154.23,212.54 L155.45,212.54 L156.68,212.55 L157.91,212.55 L159.13,212.55 L160.36,212.55 L161.59,212.56 L162.81,212.56 L164.04,212.56 L165.26,212.56 L166.49,212.57 L167.72,212.57 L168.94,212.57 L170.17,212.57 L171.40,212.58 L172.62,212.58 L173.85,212.58 L175.07,212.58 L176.30,212.59" fill="none" stroke="#62b446" stroke-width="1.2"/>
<path d="M83.11,214.42 L84.33,214.43 L85.56,214.43 L86.78,214.43 L88.01,214.43 L89.24,214.44 L90.46,214.44 L91.69,214.44 L92.92,214.44 L94.14,214.45 L95.37,214.45 L96.59,214.45 L97.82,214.45 L99.05,214.46 L100.27,214.46 L101.50,214.46 L102.73,214.47 L103.95,214.47 L105.18,214.47 L106.40,214.47 L107.63,214.48 L108.86,214.48 L110.08,214.48 L111.31,214.48 L112.54,214.49 L113.76,214.49 L114.99,214.49 L116.21,214.49 L117.44,214.50 L118.67,214.50 L119.89,214.50 L121.12,214.50 L122.34,214.51 L123.57,214.51 L124.80,214.51 L126.02,214.52 L127.25,214.52 L128.48,214.52 L129.70,214.52 L130.93,214.53 L132.16,214.53 L133.38,214.53 L134.61,214.53 L135.83,214.54 L137.06,214.54 L138.29,214.54 L139.51,214.54 L140.74,214.55 L141.97,214.55 L143.19,214.55 L144.42,214.55 L145.64,214.56 L146.87,214.56 L148.10,214.56 L149.32,214.57 L150.55,214.57 L151.78,214.57 L153.00,214.57 L154.23,214.58 L155.45,214.58 L156.68,214.58 L157.91,214.58 L159.13,214.59 L160.36,214.59 L161.59,214.59 L162.81,214.59 L164.04,214.60 L165.26,214.60 L166.49,214.60 L167.72,214.60 L168.94,214.61 L170.17,214.61 L171.40,214.61 L172.62,214.62 L173.85,214.62 L175.07,214.62 L176.30,214.62" fill="none" stroke="#e8961e" stroke-width="1.2"/>
<path d="M78.20,217.56 L80.60,213.25 L75.80,213.25 Z" fill="#1c4282" stroke="#000" stroke-width="0.65"/>
<path d="M79.84,217.91 L82.24,213.61 L77.44,213.61 Z" fill="#1c4282" stroke="#000" stroke-width="0.65"/>
<path d="M82.29,217.91 L84.69,213.61 L79.89,213.61 Z" fill="#1c4282" stroke="#000" stroke-width="0.65"/>
<path d="M86.38,217.56 L88.78,213.25 L83.97,213.25 Z" fill="#1c4282" stroke="#000" stroke-width="0.65"/>
<path d="M94.55,217.56 L96.95,213.25 L92.15,213.25 Z" fill="#1c4282" stroke="#000" stroke-width="0.65"/>
<path d="M110.90,217.56 L113.30,213.25 L108.50,213.25 Z" fill="#1c4282" stroke="#000" stroke-width="0.65"/>
<path d="M127.25,217.56 L129.65,213.25 L124.85,213.25 Z" fill="#1c4282" stroke="#000" stroke-width="0.65"/>
<path d="M176.30,217.56 L178.70,213.25 L173.90,213.25 Z" fill="#1c4282" stroke="#000" stroke-width="0.65"/>
<path d="M78.20,140.30 L80.60,144.60 L75.80,144.60 Z" fill="#b4102e" stroke="#000" stroke-width="0.65"/>
<path d="M79.84,144.51 L82.24,148.81 L77.44,148.81 Z" fill="#b4102e" stroke="#000" stroke-width="0.65"/>
<path d="M82.29,144.86 L84.69,149.16 L79.89,149.16 Z" fill="#b4102e" stroke="#000" stroke-width="0.65"/>
<path d="M86.38,143.46 L88.78,147.76 L83.97,147.76 Z" fill="#b4102e" stroke="#000" stroke-width="0.65"/>
<path d="M94.55,145.21 L96.95,149.51 L92.15,149.51 Z" fill="#b4102e" stroke="#000" stroke-width="0.65"/>
<path d="M110.90,145.21 L113.30,149.51 L108.50,149.51 Z" fill="#b4102e" stroke="#000" stroke-width="0.65"/>
<path d="M127.25,143.81 L129.65,148.11 L124.85,148.11 Z" fill="#b4102e" stroke="#000" stroke-width="0.65"/>
<path d="M176.30,146.97 L178.70,151.27 L173.90,151.27 Z" fill="#b4102e" stroke="#000" stroke-width="0.65"/>
<rect x="76.45" y="211.05" width="3.5" height="3.5" fill="#58a840" stroke="#000" stroke-width="0.65"/>
<rect x="78.09" y="210.35" width="3.5" height="3.5" fill="#58a840" stroke="#000" stroke-width="0.65"/>
<rect x="80.54" y="210.35" width="3.5" height="3.5" fill="#58a840" stroke="#000" stroke-width="0.65"/>
<rect x="84.62" y="210.00" width="3.5" height="3.5" fill="#58a840" stroke="#000" stroke-width="0.65"/>
<rect x="92.80" y="209.64" width="3.5" height="3.5" fill="#58a840" stroke="#000" stroke-width="0.65"/>
<rect x="109.15" y="210.00" width="3.5" height="3.5" fill="#58a840" stroke="#000" stroke-width="0.65"/>
<rect x="125.50" y="210.35" width="3.5" height="3.5" fill="#58a840" stroke="#000" stroke-width="0.65"/>
<rect x="174.55" y="210.35" width="3.5" height="3.5" fill="#58a840" stroke="#000" stroke-width="0.65"/>
<circle cx="78.20" cy="213.85" r="1.85" fill="#f0a020" stroke="#000" stroke-width="0.65"/>
<circle cx="79.84" cy="214.55" r="1.85" fill="#f0a020" stroke="#000" stroke-width="0.65"/>
<circle cx="82.29" cy="213.85" r="1.85" fill="#f0a020" stroke="#000" stroke-width="0.65"/>
<circle cx="86.38" cy="214.55" r="1.85" fill="#f0a020" stroke="#000" stroke-width="0.65"/>
<circle cx="94.55" cy="214.20" r="1.85" fill="#f0a020" stroke="#000" stroke-width="0.65"/>
<circle cx="110.90" cy="214.20" r="1.85" fill="#f0a020" stroke="#000" stroke-width="0.65"/>
<circle cx="127.25" cy="214.20" r="1.85" fill="#f0a020" stroke="#000" stroke-width="0.65"/>
<circle cx="176.30" cy="214.20" r="1.85" fill="#f0a020" stroke="#000" stroke-width="0.65"/>
<rect x="225.7" y="139.8" width="106.40000000000003" height="78.39999999999998" fill="none" stroke="#111" stroke-width="1.3"/>
<line x1="222.1" y1="213.50" x2="225.7" y2="213.50" stroke="#222" stroke-width="1"/>
<text x="219.90" y="216.30" font-family="Liberation Sans, sans-serif" font-size="7.8" font-weight="normal" text-anchor="end" fill="#000" stroke="#000" stroke-width="0.12" >0</text>
<line x1="222.1" y1="195.95" x2="225.7" y2="195.95" stroke="#222" stroke-width="1"/>
<text x="219.90" y="198.75" font-family="Liberation Sans, sans-serif" font-size="7.8" font-weight="normal" text-anchor="end" fill="#000" stroke="#000" stroke-width="0.12" >25</text>
<line x1="222.1" y1="178.40" x2="225.7" y2="178.40" stroke="#222" stroke-width="1"/>
<text x="219.90" y="181.20" font-family="Liberation Sans, sans-serif" font-size="7.8" font-weight="normal" text-anchor="end" fill="#000" stroke="#000" stroke-width="0.12" >50</text>
<line x1="222.1" y1="160.85" x2="225.7" y2="160.85" stroke="#222" stroke-width="1"/>
<text x="219.90" y="163.65" font-family="Liberation Sans, sans-serif" font-size="7.8" font-weight="normal" text-anchor="end" fill="#000" stroke="#000" stroke-width="0.12" >75</text>
<line x1="222.1" y1="143.30" x2="225.7" y2="143.30" stroke="#222" stroke-width="1"/>
<text x="219.90" y="146.10" font-family="Liberation Sans, sans-serif" font-size="7.8" font-weight="normal" text-anchor="end" fill="#000" stroke="#000" stroke-width="0.12" >100</text>
<line x1="230.00" y1="218.2" x2="230.00" y2="221.79999999999998" stroke="#222" stroke-width="1"/>
<text x="230.00" y="231.20" font-family="Liberation Sans, sans-serif" font-size="7.8" font-weight="normal" text-anchor="middle" fill="#000" stroke="#000" stroke-width="0.12" >0</text>
<line x1="246.30" y1="218.2" x2="246.30" y2="221.79999999999998" stroke="#222" stroke-width="1"/>
<text x="246.30" y="231.20" font-family="Liberation Sans, sans-serif" font-size="7.8" font-weight="normal" text-anchor="middle" fill="#000" stroke="#000" stroke-width="0.12" >20</text>
<line x1="262.60" y1="218.2" x2="262.60" y2="221.79999999999998" stroke="#222" stroke-width="1"/>
<text x="262.60" y="231.20" font-family="Liberation Sans, sans-serif" font-size="7.8" font-weight="normal" text-anchor="middle" fill="#000" stroke="#000" stroke-width="0.12" >40</text>
<line x1="278.90" y1="218.2" x2="278.90" y2="221.79999999999998" stroke="#222" stroke-width="1"/>
<text x="278.90" y="231.20" font-family="Liberation Sans, sans-serif" font-size="7.8" font-weight="normal" text-anchor="middle" fill="#000" stroke="#000" stroke-width="0.12" >60</text>
<line x1="295.20" y1="218.2" x2="295.20" y2="221.79999999999998" stroke="#222" stroke-width="1"/>
<text x="295.20" y="231.20" font-family="Liberation Sans, sans-serif" font-size="7.8" font-weight="normal" text-anchor="middle" fill="#000" stroke="#000" stroke-width="0.12" >80</text>
<line x1="311.50" y1="218.2" x2="311.50" y2="221.79999999999998" stroke="#222" stroke-width="1"/>
<text x="311.50" y="231.20" font-family="Liberation Sans, sans-serif" font-size="7.8" font-weight="normal" text-anchor="middle" fill="#000" stroke="#000" stroke-width="0.12" >100</text>
<line x1="327.80" y1="218.2" x2="327.80" y2="221.79999999999998" stroke="#222" stroke-width="1"/>
<text x="327.80" y="231.20" font-family="Liberation Sans, sans-serif" font-size="7.8" font-weight="normal" text-anchor="middle" fill="#000" stroke="#000" stroke-width="0.12" >120</text>
<text x="263.00" y="244.20" font-family="Liberation Sans, sans-serif" font-size="9.6" textLength="31.8" lengthAdjust="spacingAndGlyphs" fill="#000" stroke="#000" stroke-width="0.25">Time (min)</text>
<path d="M230.00,213.50 L231.22,209.49 L232.44,205.94 L233.67,202.78 L234.89,199.97 L236.11,197.48 L237.34,195.26 L238.56,193.30 L239.78,191.54 L241.00,189.99 L242.22,188.60 L243.45,187.37 L244.67,186.27 L245.89,185.30 L247.12,184.43 L248.34,183.65 L249.56,182.96 L250.78,182.34 L252.00,181.78 L253.23,181.29 L254.45,180.85 L255.67,180.45 L256.89,180.09 L258.12,179.77 L259.34,179.49 L260.56,179.23 L261.79,178.99 L263.01,178.78 L264.23,178.59 L265.45,178.41 L266.68,178.25 L267.90,178.11 L269.12,177.98 L270.34,177.85 L271.56,177.74 L272.79,177.64 L274.01,177.54 L275.23,177.45 L276.45,177.37 L277.68,177.29 L278.90,177.21 L280.12,177.15 L281.35,177.08 L282.57,177.02 L283.79,176.96 L285.01,176.90 L286.24,176.85 L287.46,176.79 L288.68,176.74 L289.90,176.69 L291.12,176.64 L292.35,176.60 L293.57,176.55 L294.79,176.51 L296.01,176.46 L297.24,176.42 L298.46,176.38 L299.68,176.34 L300.90,176.30 L302.13,176.26 L303.35,176.21 L304.57,176.18 L305.80,176.14 L307.02,176.10 L308.24,176.06 L309.46,176.02 L310.69,175.98 L311.91,175.94 L313.13,175.90 L314.35,175.87 L315.58,175.83 L316.80,175.79 L318.02,175.75 L319.24,175.72 L320.47,175.68 L321.69,175.64 L322.91,175.60 L324.13,175.57 L325.36,175.53 L326.58,175.49 L327.80,175.45" fill="none" stroke="#36568f" stroke-width="1.2"/>
<path d="M230.00,142.25 L231.22,149.66 L232.44,156.06 L233.67,161.59 L234.89,166.39 L236.11,170.57 L237.34,174.21 L238.56,177.41 L239.78,180.21 L241.00,182.68 L242.22,184.87 L243.45,186.81 L244.67,188.55 L245.89,190.10 L247.12,191.50 L248.34,192.76 L249.56,193.91 L250.78,194.95 L252.00,195.90 L253.23,196.78 L254.45,197.58 L255.67,198.33 L256.89,199.02 L258.12,199.66 L259.34,200.26 L260.56,200.82 L261.79,201.35 L263.01,201.85 L264.23,202.31 L265.45,202.76 L266.68,203.17 L267.90,203.57 L269.12,203.94 L270.34,204.30 L271.56,204.64 L272.79,204.96 L274.01,205.27 L275.23,205.57 L276.45,205.85 L277.68,206.12 L278.90,206.37 L280.12,206.62 L281.35,206.85 L282.57,207.08 L283.79,207.29 L285.01,207.50 L286.24,207.70 L287.46,207.89 L288.68,208.07 L289.90,208.24 L291.12,208.41 L292.35,208.57 L293.57,208.73 L294.79,208.87 L296.01,209.02 L297.24,209.15 L298.46,209.28 L299.68,209.41 L300.90,209.53 L302.13,209.64 L303.35,209.76 L304.57,209.86 L305.80,209.96 L307.02,210.06 L308.24,210.16 L309.46,210.25 L310.69,210.34 L311.91,210.42 L313.13,210.50 L314.35,210.58 L315.58,210.65 L316.80,210.72 L318.02,210.79 L319.24,210.86 L320.47,210.92 L321.69,210.98 L322.91,211.04 L324.13,211.09 L325.36,211.15 L326.58,211.20 L327.80,211.25" fill="none" stroke="#b3163c" stroke-width="1.2"/>
<path d="M230.00,213.50 L231.22,211.73 L232.44,210.75 L233.67,210.22 L234.89,209.93 L236.11,209.76 L237.34,209.68 L238.56,209.63 L239.78,209.60 L241.00,209.59 L242.22,209.58 L243.45,209.57 L244.67,209.57 L245.89,209.57 L247.12,209.57 L248.34,209.57 L249.56,209.57 L250.78,209.57 L252.00,209.57 L253.23,209.57 L254.45,209.57 L255.67,209.57 L256.89,209.57 L258.12,209.57 L259.34,209.57 L260.56,209.57 L261.79,209.57 L263.01,209.57 L264.23,209.57 L265.45,209.57 L266.68,209.57 L267.90,209.57 L269.12,209.57 L270.34,209.57 L271.56,209.57 L272.79,209.57 L274.01,209.57 L275.23,209.57 L276.45,209.57 L277.68,209.57 L278.90,209.57 L280.12,209.57 L281.35,209.57 L282.57,209.57 L283.79,209.57 L285.01,209.57 L286.24,209.57 L287.46,209.57 L288.68,209.57 L289.90,209.57 L291.12,209.57 L292.35,209.57 L293.57,209.57 L294.79,209.57 L296.01,209.57 L297.24,209.57 L298.46,209.57 L299.68,209.57 L300.90,209.57 L302.13,209.57 L303.35,209.57 L304.57,209.57 L305.80,209.57 L307.02,209.57 L308.24,209.57 L309.46,209.57 L310.69,209.57 L311.91,209.57 L313.13,209.57 L314.35,209.57 L315.58,209.57 L316.80,209.57 L318.02,209.57 L319.24,209.57 L320.47,209.57 L321.69,209.57 L322.91,209.57 L324.13,209.57 L325.36,209.57 L326.58,209.57 L327.80,209.57" fill="none" stroke="#62b446" stroke-width="1.2"/>
<path d="M230.00,213.50 L231.22,211.61 L232.44,209.88 L233.67,208.31 L234.89,206.87 L236.11,205.56 L237.34,204.37 L238.56,203.28 L239.78,202.28 L241.00,201.37 L242.22,200.54 L243.45,199.78 L244.67,199.09 L245.89,198.45 L247.12,197.87 L248.34,197.34 L249.56,196.86 L250.78,196.42 L252.00,196.01 L253.23,195.64 L254.45,195.30 L255.67,194.99 L256.89,194.70 L258.12,194.44 L259.34,194.19 L260.56,193.97 L261.79,193.77 L263.01,193.58 L264.23,193.41 L265.45,193.25 L266.68,193.10 L267.90,192.97 L269.12,192.84 L270.34,192.72 L271.56,192.62 L272.79,192.52 L274.01,192.42 L275.23,192.34 L276.45,192.25 L277.68,192.18 L278.90,192.11 L280.12,192.04 L281.35,191.98 L282.57,191.92 L283.79,191.87 L285.01,191.81 L286.24,191.76 L287.46,191.72 L288.68,191.67 L289.90,191.63 L291.12,191.59 L292.35,191.55 L293.57,191.51 L294.79,191.48 L296.01,191.44 L297.24,191.41 L298.46,191.38 L299.68,191.34 L300.90,191.31 L302.13,191.28 L303.35,191.26 L304.57,191.23 L305.80,191.20 L307.02,191.17 L308.24,191.15 L309.46,191.12 L310.69,191.10 L311.91,191.07 L313.13,191.05 L314.35,191.02 L315.58,191.00 L316.80,190.97 L318.02,190.95 L319.24,190.93 L320.47,190.90 L321.69,190.88 L322.91,190.86 L324.13,190.83 L325.36,190.81 L326.58,190.79 L327.80,190.77" fill="none" stroke="#e8961e" stroke-width="1.2"/>
<path d="M230.00,215.10 L232.40,210.80 L227.60,210.80 Z" fill="#1c4282" stroke="#000" stroke-width="0.65"/>
<path d="M231.63,207.73 L234.03,203.43 L229.23,203.43 Z" fill="#1c4282" stroke="#000" stroke-width="0.65"/>
<path d="M234.07,203.52 L236.47,199.22 L231.67,199.22 Z" fill="#1c4282" stroke="#000" stroke-width="0.65"/>
<path d="M238.15,196.50 L240.55,192.19 L235.75,192.19 Z" fill="#1c4282" stroke="#000" stroke-width="0.65"/>
<path d="M246.30,188.42 L248.70,184.12 L243.90,184.12 Z" fill="#1c4282" stroke="#000" stroke-width="0.65"/>
<path d="M262.60,182.81 L265.00,178.51 L260.20,178.51 Z" fill="#1c4282" stroke="#000" stroke-width="0.65"/>
<path d="M278.90,179.65 L281.30,175.35 L276.50,175.35 Z" fill="#1c4282" stroke="#000" stroke-width="0.65"/>
<path d="M327.80,179.30 L330.20,175.00 L325.40,175.00 Z" fill="#1c4282" stroke="#000" stroke-width="0.65"/>
<path d="M230.00,141.00 L232.40,145.30 L227.60,145.30 Z" fill="#b4102e" stroke="#000" stroke-width="0.65"/>
<path d="M231.63,155.04 L234.03,159.34 L229.23,159.34 Z" fill="#b4102e" stroke="#000" stroke-width="0.65"/>
<path d="M234.07,160.66 L236.47,164.96 L231.67,164.96 Z" fill="#b4102e" stroke="#000" stroke-width="0.65"/>
<path d="M238.15,173.99 L240.55,178.29 L235.75,178.29 Z" fill="#b4102e" stroke="#000" stroke-width="0.65"/>
<path d="M246.30,189.44 L248.70,193.74 L243.90,193.74 Z" fill="#b4102e" stroke="#000" stroke-width="0.65"/>
<path d="M262.60,201.72 L265.00,206.02 L260.20,206.02 Z" fill="#b4102e" stroke="#000" stroke-width="0.65"/>
<path d="M278.90,204.32 L281.30,208.62 L276.50,208.62 Z" fill="#b4102e" stroke="#000" stroke-width="0.65"/>
<path d="M327.80,206.99 L330.20,211.29 L325.40,211.29 Z" fill="#b4102e" stroke="#000" stroke-width="0.65"/>
<rect x="228.25" y="211.40" width="3.5" height="3.5" fill="#58a840" stroke="#000" stroke-width="0.65"/>
<rect x="229.88" y="210.00" width="3.5" height="3.5" fill="#58a840" stroke="#000" stroke-width="0.65"/>
<rect x="232.32" y="208.59" width="3.5" height="3.5" fill="#58a840" stroke="#000" stroke-width="0.65"/>
<rect x="236.40" y="206.84" width="3.5" height="3.5" fill="#58a840" stroke="#000" stroke-width="0.65"/>
<rect x="244.55" y="207.05" width="3.5" height="3.5" fill="#58a840" stroke="#000" stroke-width="0.65"/>
<rect x="260.85" y="208.59" width="3.5" height="3.5" fill="#58a840" stroke="#000" stroke-width="0.65"/>
<rect x="277.15" y="207.89" width="3.5" height="3.5" fill="#58a840" stroke="#000" stroke-width="0.65"/>
<rect x="326.05" y="207.89" width="3.5" height="3.5" fill="#58a840" stroke="#000" stroke-width="0.65"/>
<circle cx="230.00" cy="215.25" r="1.85" fill="#f0a020" stroke="#000" stroke-width="0.65"/>
<circle cx="231.63" cy="209.71" r="1.85" fill="#f0a020" stroke="#000" stroke-width="0.65"/>
<circle cx="234.07" cy="207.39" r="1.85" fill="#f0a020" stroke="#000" stroke-width="0.65"/>
<circle cx="238.15" cy="205.22" r="1.85" fill="#f0a020" stroke="#000" stroke-width="0.65"/>
<circle cx="246.30" cy="197.14" r="1.85" fill="#f0a020" stroke="#000" stroke-width="0.65"/>
<circle cx="262.60" cy="193.84" r="1.85" fill="#f0a020" stroke="#000" stroke-width="0.65"/>
<circle cx="278.90" cy="190.54" r="1.85" fill="#f0a020" stroke="#000" stroke-width="0.65"/>
<circle cx="327.80" cy="192.09" r="1.85" fill="#f0a020" stroke="#000" stroke-width="0.65"/>
<rect x="383.3" y="139.6" width="107.09999999999997" height="78.5" fill="none" stroke="#111" stroke-width="1.3"/>
<line x1="379.7" y1="213.40" x2="383.3" y2="213.40" stroke="#222" stroke-width="1"/>
<text x="377.50" y="216.20" font-family="Liberation Sans, sans-serif" font-size="7.8" font-weight="normal" text-anchor="end" fill="#000" stroke="#000" stroke-width="0.12" >0</text>
<line x1="379.7" y1="195.85" x2="383.3" y2="195.85" stroke="#222" stroke-width="1"/>
<text x="377.50" y="198.65" font-family="Liberation Sans, sans-serif" font-size="7.8" font-weight="normal" text-anchor="end" fill="#000" stroke="#000" stroke-width="0.12" >25</text>
<line x1="379.7" y1="178.30" x2="383.3" y2="178.30" stroke="#222" stroke-width="1"/>
<text x="377.50" y="181.10" font-family="Liberation Sans, sans-serif" font-size="7.8" font-weight="normal" text-anchor="end" fill="#000" stroke="#000" stroke-width="0.12" >50</text>
<line x1="379.7" y1="160.75" x2="383.3" y2="160.75" stroke="#222" stroke-width="1"/>
<text x="377.50" y="163.55" font-family="Liberation Sans, sans-serif" font-size="7.8" font-weight="normal" text-anchor="end" fill="#000" stroke="#000" stroke-width="0.12" >75</text>
<line x1="379.7" y1="143.20" x2="383.3" y2="143.20" stroke="#222" stroke-width="1"/>
<text x="377.50" y="146.00" font-family="Liberation Sans, sans-serif" font-size="7.8" font-weight="normal" text-anchor="end" fill="#000" stroke="#000" stroke-width="0.12" >100</text>
<line x1="387.60" y1="218.1" x2="387.60" y2="221.7" stroke="#222" stroke-width="1"/>
<text x="387.60" y="231.10" font-family="Liberation Sans, sans-serif" font-size="7.8" font-weight="normal" text-anchor="middle" fill="#000" stroke="#000" stroke-width="0.12" >0</text>
<line x1="403.92" y1="218.1" x2="403.92" y2="221.7" stroke="#222" stroke-width="1"/>
<text x="403.92" y="231.10" font-family="Liberation Sans, sans-serif" font-size="7.8" font-weight="normal" text-anchor="middle" fill="#000" stroke="#000" stroke-width="0.12" >20</text>
<line x1="420.23" y1="218.1" x2="420.23" y2="221.7" stroke="#222" stroke-width="1"/>
<text x="420.23" y="231.10" font-family="Liberation Sans, sans-serif" font-size="7.8" font-weight="normal" text-anchor="middle" fill="#000" stroke="#000" stroke-width="0.12" >40</text>
<line x1="436.55" y1="218.1" x2="436.55" y2="221.7" stroke="#222" stroke-width="1"/>
<text x="436.55" y="231.10" font-family="Liberation Sans, sans-serif" font-size="7.8" font-weight="normal" text-anchor="middle" fill="#000" stroke="#000" stroke-width="0.12" >60</text>
<line x1="452.87" y1="218.1" x2="452.87" y2="221.7" stroke="#222" stroke-width="1"/>
<text x="452.87" y="231.10" font-family="Liberation Sans, sans-serif" font-size="7.8" font-weight="normal" text-anchor="middle" fill="#000" stroke="#000" stroke-width="0.12" >80</text>
<line x1="469.18" y1="218.1" x2="469.18" y2="221.7" stroke="#222" stroke-width="1"/>
<text x="469.18" y="231.10" font-family="Liberation Sans, sans-serif" font-size="7.8" font-weight="normal" text-anchor="middle" fill="#000" stroke="#000" stroke-width="0.12" >100</text>
<line x1="485.50" y1="218.1" x2="485.50" y2="221.7" stroke="#222" stroke-width="1"/>
<text x="485.50" y="231.10" font-family="Liberation Sans, sans-serif" font-size="7.8" font-weight="normal" text-anchor="middle" fill="#000" stroke="#000" stroke-width="0.12" >120</text>
<text x="420.95" y="244.10" font-family="Liberation Sans, sans-serif" font-size="9.6" textLength="31.8" lengthAdjust="spacingAndGlyphs" fill="#000" stroke="#000" stroke-width="0.25">Time (min)</text>
<path d="M387.60,213.40 L388.82,212.45 L390.05,211.52 L391.27,210.62 L392.50,209.74 L393.72,208.89 L394.94,208.06 L396.17,207.25 L397.39,206.47 L398.61,205.71 L399.84,204.96 L401.06,204.24 L402.29,203.54 L403.51,202.86 L404.73,202.20 L405.96,201.56 L407.18,200.93 L408.40,200.33 L409.63,199.74 L410.85,199.16 L412.07,198.60 L413.30,198.06 L414.52,197.53 L415.75,197.02 L416.97,196.52 L418.19,196.03 L419.42,195.56 L420.64,195.10 L421.87,194.66 L423.09,194.22 L424.31,193.80 L425.54,193.39 L426.76,193.00 L427.98,192.61 L429.21,192.23 L430.43,191.87 L431.66,191.51 L432.88,191.16 L434.10,190.83 L435.33,190.50 L436.55,190.18 L437.77,189.87 L439.00,189.57 L440.22,189.28 L441.44,189.00 L442.67,188.72 L443.89,188.45 L445.12,188.19 L446.34,187.94 L447.56,187.69 L448.79,187.45 L450.01,187.22 L451.24,186.99 L452.46,186.77 L453.68,186.56 L454.91,186.35 L456.13,186.15 L457.35,185.95 L458.58,185.76 L459.80,185.57 L461.02,185.39 L462.25,185.22 L463.47,185.05 L464.70,184.88 L465.92,184.72 L467.14,184.56 L468.37,184.41 L469.59,184.26 L470.81,184.12 L472.04,183.98 L473.26,183.84 L474.49,183.71 L475.71,183.58 L476.93,183.45 L478.16,183.33 L479.38,183.21 L480.61,183.10 L481.83,182.99 L483.05,182.88 L484.28,182.77 L485.50,182.67" fill="none" stroke="#36568f" stroke-width="1.2"/>
<path d="M387.60,143.20 L388.82,147.89 L390.05,151.17 L391.27,153.63 L392.50,155.60 L393.72,157.29 L394.94,158.80 L396.17,160.19 L397.39,161.50 L398.61,162.76 L399.84,163.97 L401.06,165.15 L402.29,166.29 L403.51,167.40 L404.73,168.49 L405.96,169.54 L407.18,170.58 L408.40,171.59 L409.63,172.57 L410.85,173.53 L412.07,174.47 L413.30,175.39 L414.52,176.28 L415.75,177.15 L416.97,178.01 L418.19,178.84 L419.42,179.65 L420.64,180.45 L421.87,181.22 L423.09,181.98 L424.31,182.72 L425.54,183.44 L426.76,184.15 L427.98,184.84 L429.21,185.51 L430.43,186.17 L431.66,186.81 L432.88,187.43 L434.10,188.04 L435.33,188.64 L436.55,189.22 L437.77,189.79 L439.00,190.35 L440.22,190.89 L441.44,191.42 L442.67,191.94 L443.89,192.44 L445.12,192.94 L446.34,193.42 L447.56,193.89 L448.79,194.35 L450.01,194.80 L451.24,195.23 L452.46,195.66 L453.68,196.08 L454.91,196.49 L456.13,196.89 L457.35,197.27 L458.58,197.65 L459.80,198.02 L461.02,198.39 L462.25,198.74 L463.47,199.08 L464.70,199.42 L465.92,199.75 L467.14,200.07 L468.37,200.39 L469.59,200.69 L470.81,200.99 L472.04,201.28 L473.26,201.57 L474.49,201.85 L475.71,202.12 L476.93,202.38 L478.16,202.64 L479.38,202.90 L480.61,203.14 L481.83,203.39 L483.05,203.62 L484.28,203.85 L485.50,204.08" fill="none" stroke="#b3163c" stroke-width="1.2"/>
<path d="M387.60,213.40 L388.82,212.79 L390.05,212.22 L391.27,211.69 L392.50,211.18 L393.72,210.71 L394.94,210.26 L396.17,209.85 L397.39,209.45 L398.61,209.09 L399.84,208.74 L401.06,208.41 L402.29,208.11 L403.51,207.82 L404.73,207.55 L405.96,207.30 L407.18,207.06 L408.40,206.84 L409.63,206.63 L410.85,206.43 L412.07,206.24 L413.30,206.07 L414.52,205.91 L415.75,205.75 L416.97,205.61 L418.19,205.47 L419.42,205.34 L420.64,205.22 L421.87,205.11 L423.09,205.00 L424.31,204.91 L425.54,204.81 L426.76,204.72 L427.98,204.64 L429.21,204.56 L430.43,204.49 L431.66,204.42 L432.88,204.36 L434.10,204.30 L435.33,204.24 L436.55,204.19 L437.77,204.14 L439.00,204.09 L440.22,204.05 L441.44,204.01 L442.67,203.97 L443.89,203.93 L445.12,203.90 L446.34,203.86 L447.56,203.83 L448.79,203.80 L450.01,203.78 L451.24,203.75 L452.46,203.73 L453.68,203.71 L454.91,203.69 L456.13,203.67 L457.35,203.65 L458.58,203.63 L459.80,203.61 L461.02,203.60 L462.25,203.58 L463.47,203.57 L464.70,203.56 L465.92,203.55 L467.14,203.54 L468.37,203.52 L469.59,203.51 L470.81,203.51 L472.04,203.50 L473.26,203.49 L474.49,203.48 L475.71,203.47 L476.93,203.47 L478.16,203.46 L479.38,203.45 L480.61,203.45 L481.83,203.44 L483.05,203.44 L484.28,203.43 L485.50,203.43" fill="none" stroke="#62b446" stroke-width="1.2"/>
<path d="M387.60,213.40 L388.82,212.92 L390.05,212.46 L391.27,212.01 L392.50,211.56 L393.72,211.13 L394.94,210.71 L396.17,210.30 L397.39,209.89 L398.61,209.50 L399.84,209.12 L401.06,208.74 L402.29,208.38 L403.51,208.02 L404.73,207.67 L405.96,207.33 L407.18,207.00 L408.40,206.67 L409.63,206.36 L410.85,206.05 L412.07,205.75 L413.30,205.45 L414.52,205.16 L415.75,204.88 L416.97,204.61 L418.19,204.34 L419.42,204.08 L420.64,203.83 L421.87,203.58 L423.09,203.33 L424.31,203.10 L425.54,202.86 L426.76,202.64 L427.98,202.42 L429.21,202.20 L430.43,201.99 L431.66,201.78 L432.88,201.58 L434.10,201.39 L435.33,201.20 L436.55,201.01 L437.77,200.83 L439.00,200.65 L440.22,200.48 L441.44,200.31 L442.67,200.14 L443.89,199.98 L445.12,199.82 L446.34,199.67 L447.56,199.52 L448.79,199.37 L450.01,199.23 L451.24,199.09 L452.46,198.95 L453.68,198.82 L454.91,198.69 L456.13,198.56 L457.35,198.43 L458.58,198.31 L459.80,198.20 L461.02,198.08 L462.25,197.97 L463.47,197.86 L464.70,197.75 L465.92,197.64 L467.14,197.54 L468.37,197.44 L469.59,197.34 L470.81,197.25 L472.04,197.16 L473.26,197.06 L474.49,196.98 L475.71,196.89 L476.93,196.80 L478.16,196.72 L479.38,196.64 L480.61,196.56 L481.83,196.49 L483.05,196.41 L484.28,196.34 L485.50,196.27" fill="none" stroke="#e8961e" stroke-width="1.2"/>
<path d="M387.60,215.00 L390.00,210.70 L385.20,210.70 Z" fill="#1c4282" stroke="#000" stroke-width="0.65"/>
<path d="M389.23,212.19 L391.63,207.89 L386.83,207.89 Z" fill="#1c4282" stroke="#000" stroke-width="0.65"/>
<path d="M391.68,211.49 L394.08,207.19 L389.28,207.19 Z" fill="#1c4282" stroke="#000" stroke-width="0.65"/>
<path d="M395.76,208.68 L398.16,204.38 L393.36,204.38 Z" fill="#1c4282" stroke="#000" stroke-width="0.65"/>
<path d="M403.92,204.47 L406.32,200.17 L401.52,200.17 Z" fill="#1c4282" stroke="#000" stroke-width="0.65"/>
<path d="M420.23,198.50 L422.63,194.20 L417.83,194.20 Z" fill="#1c4282" stroke="#000" stroke-width="0.65"/>
<path d="M436.55,193.24 L438.95,188.94 L434.15,188.94 Z" fill="#1c4282" stroke="#000" stroke-width="0.65"/>
<path d="M485.50,184.46 L487.90,180.16 L483.10,180.16 Z" fill="#1c4282" stroke="#000" stroke-width="0.65"/>
<path d="M387.60,140.90 L390.00,145.20 L385.20,145.20 Z" fill="#b4102e" stroke="#000" stroke-width="0.65"/>
<path d="M389.23,147.22 L391.63,151.52 L386.83,151.52 Z" fill="#b4102e" stroke="#000" stroke-width="0.65"/>
<path d="M391.68,151.43 L394.08,155.73 L389.28,155.73 Z" fill="#b4102e" stroke="#000" stroke-width="0.65"/>
<path d="M395.76,157.75 L398.16,162.05 L393.36,162.05 Z" fill="#b4102e" stroke="#000" stroke-width="0.65"/>
<path d="M403.92,165.47 L406.32,169.77 L401.52,169.77 Z" fill="#b4102e" stroke="#000" stroke-width="0.65"/>
<path d="M420.23,178.11 L422.63,182.41 L417.83,182.41 Z" fill="#b4102e" stroke="#000" stroke-width="0.65"/>
<path d="M436.55,185.83 L438.95,190.13 L434.15,190.13 Z" fill="#b4102e" stroke="#000" stroke-width="0.65"/>
<path d="M485.50,201.97 L487.90,206.27 L483.10,206.27 Z" fill="#b4102e" stroke="#000" stroke-width="0.65"/>
<rect x="385.85" y="211.65" width="3.5" height="3.5" fill="#58a840" stroke="#000" stroke-width="0.65"/>
<rect x="387.48" y="210.95" width="3.5" height="3.5" fill="#58a840" stroke="#000" stroke-width="0.65"/>
<rect x="389.93" y="210.25" width="3.5" height="3.5" fill="#58a840" stroke="#000" stroke-width="0.65"/>
<rect x="394.01" y="208.84" width="3.5" height="3.5" fill="#58a840" stroke="#000" stroke-width="0.65"/>
<rect x="402.17" y="206.03" width="3.5" height="3.5" fill="#58a840" stroke="#000" stroke-width="0.65"/>
<rect x="418.48" y="203.23" width="3.5" height="3.5" fill="#58a840" stroke="#000" stroke-width="0.65"/>
<rect x="434.80" y="201.12" width="3.5" height="3.5" fill="#58a840" stroke="#000" stroke-width="0.65"/>
<rect x="483.75" y="202.52" width="3.5" height="3.5" fill="#58a840" stroke="#000" stroke-width="0.65"/>
<circle cx="387.60" cy="214.10" r="1.85" fill="#f0a020" stroke="#000" stroke-width="0.65"/>
<circle cx="389.23" cy="212.00" r="1.85" fill="#f0a020" stroke="#000" stroke-width="0.65"/>
<circle cx="391.68" cy="211.65" r="1.85" fill="#f0a020" stroke="#000" stroke-width="0.65"/>
<circle cx="395.76" cy="210.31" r="1.85" fill="#f0a020" stroke="#000" stroke-width="0.65"/>
<circle cx="403.92" cy="207.08" r="1.85" fill="#f0a020" stroke="#000" stroke-width="0.65"/>
<circle cx="420.23" cy="204.98" r="1.85" fill="#f0a020" stroke="#000" stroke-width="0.65"/>
<circle cx="436.55" cy="200.76" r="1.85" fill="#f0a020" stroke="#000" stroke-width="0.65"/>
<circle cx="485.50" cy="196.20" r="1.85" fill="#f0a020" stroke="#000" stroke-width="0.65"/>
<text x="278.90" y="268.80" font-family="Liberation Sans, sans-serif" font-size="9.1" font-weight="normal" text-anchor="middle" fill="#000" stroke="#000" stroke-width="0.1" >Human PK-A3</text>
<text x="231.30" y="281.00" font-family="Liberation Sans, sans-serif" font-size="7.8" font-weight="normal" text-anchor="middle" fill="#000" stroke="#000" stroke-width="0.12" >0</text>
<text x="244.10" y="281.00" font-family="Liberation Sans, sans-serif" font-size="7.8" font-weight="normal" text-anchor="middle" fill="#000" stroke="#000" stroke-width="0.12" >1</text>
<text x="254.80" y="281.00" font-family="Liberation Sans, sans-serif" font-size="7.8" font-weight="normal" text-anchor="middle" fill="#000" stroke="#000" stroke-width="0.12" >2.5</text>
<text x="266.80" y="281.00" font-family="Liberation Sans, sans-serif" font-size="7.8" font-weight="normal" text-anchor="middle" fill="#000" stroke="#000" stroke-width="0.12" >5</text>
<text x="278.60" y="281.00" font-family="Liberation Sans, sans-serif" font-size="7.8" font-weight="normal" text-anchor="middle" fill="#000" stroke="#000" stroke-width="0.12" >10</text>
<text x="289.40" y="281.00" font-family="Liberation Sans, sans-serif" font-size="7.8" font-weight="normal" text-anchor="middle" fill="#000" stroke="#000" stroke-width="0.12" >20</text>
<text x="301.30" y="281.00" font-family="Liberation Sans, sans-serif" font-size="7.8" font-weight="normal" text-anchor="middle" fill="#000" stroke="#000" stroke-width="0.12" >30</text>
<text x="312.80" y="281.00" font-family="Liberation Sans, sans-serif" font-size="7.8" font-weight="normal" text-anchor="middle" fill="#000" stroke="#000" stroke-width="0.12" >60</text>
<text x="325.40" y="281.00" font-family="Liberation Sans, sans-serif" font-size="7.8" font-weight="normal" text-anchor="middle" fill="#000" stroke="#000" stroke-width="0.12" >120</text>
<rect x="225.8" y="286" width="106.19999999999999" height="78" fill="#fcfcfc"/>
<rect x="226.90" y="287" width="9.60" height="76" fill="url(#lanegrad)" filter="url(#bl1)"/>
<rect x="238.70" y="287" width="9.60" height="76" fill="url(#lanegrad)" filter="url(#bl1)"/>
<rect x="250.50" y="287" width="9.60" height="76" fill="url(#lanegrad)" filter="url(#bl1)"/>
<rect x="262.30" y="287" width="9.60" height="76" fill="url(#lanegrad)" filter="url(#bl1)"/>
<rect x="274.10" y="287" width="9.60" height="76" fill="url(#lanegrad)" filter="url(#bl1)"/>
<rect x="285.90" y="287" width="9.60" height="76" fill="url(#lanegrad)" filter="url(#bl1)"/>
<rect x="297.70" y="287" width="9.60" height="76" fill="url(#lanegrad)" filter="url(#bl1)"/>
<rect x="309.50" y="287" width="9.60" height="76" fill="url(#lanegrad)" filter="url(#bl1)"/>
<rect x="321.30" y="287" width="9.60" height="76" fill="url(#lanegrad)" filter="url(#bl1)"/>
<rect x="226.90" y="303.45" width="9.60" height="3.3" rx="1.65" ry="1.32" fill="rgb(0,0,0)" filter="url(#bl2)"/>
<rect x="238.70" y="303.45" width="9.60" height="3.3" rx="1.65" ry="1.32" fill="rgb(0,0,0)" filter="url(#bl2)"/>
<rect x="250.50" y="303.45" width="9.60" height="3.3" rx="1.65" ry="1.32" fill="rgb(0,0,0)" filter="url(#bl2)"/>
<rect x="262.30" y="303.45" width="9.60" height="3.3" rx="1.65" ry="1.32" fill="rgb(0,0,0)" filter="url(#bl2)"/>
<rect x="274.10" y="303.45" width="9.60" height="3.3" rx="1.65" ry="1.32" fill="rgb(0,0,0)" filter="url(#bl2)"/>
<rect x="285.90" y="303.45" width="9.60" height="3.3" rx="1.65" ry="1.32" fill="rgb(19,19,19)" filter="url(#bl2)"/>
<rect x="297.70" y="303.45" width="9.60" height="3.3" rx="1.65" ry="1.32" fill="rgb(44,44,44)" filter="url(#bl2)"/>
<rect x="309.50" y="303.45" width="9.60" height="3.3" rx="1.65" ry="1.32" fill="rgb(133,133,133)" filter="url(#bl2)"/>
<rect x="321.30" y="303.45" width="9.60" height="3.3" rx="1.65" ry="1.32" fill="rgb(213,213,213)" filter="url(#bl2)"/>
<rect x="238.70" y="319.45" width="9.60" height="1.5" rx="0.75" ry="0.60" fill="rgb(235,235,235)" filter="url(#bl2)"/>
<rect x="250.50" y="319.45" width="9.60" height="1.5" rx="0.75" ry="0.60" fill="rgb(232,232,232)" filter="url(#bl2)"/>
<rect x="262.30" y="319.45" width="9.60" height="1.5" rx="0.75" ry="0.60" fill="rgb(232,232,232)" filter="url(#bl2)"/>
<rect x="274.10" y="319.45" width="9.60" height="1.5" rx="0.75" ry="0.60" fill="rgb(230,230,230)" filter="url(#bl2)"/>
<rect x="285.90" y="319.45" width="9.60" height="1.5" rx="0.75" ry="0.60" fill="rgb(227,227,227)" filter="url(#bl2)"/>
<rect x="297.70" y="319.45" width="9.60" height="1.5" rx="0.75" ry="0.60" fill="rgb(225,225,225)" filter="url(#bl2)"/>
<rect x="309.50" y="319.45" width="9.60" height="1.5" rx="0.75" ry="0.60" fill="rgb(223,223,223)" filter="url(#bl2)"/>
<rect x="321.30" y="319.45" width="9.60" height="1.5" rx="0.75" ry="0.60" fill="rgb(223,223,223)" filter="url(#bl2)"/>
<rect x="226.90" y="322.30" width="9.60" height="2.4" rx="1.20" ry="0.96" fill="rgb(237,237,237)" filter="url(#bl2)"/>
<rect x="238.70" y="322.30" width="9.60" height="2.4" rx="1.20" ry="0.96" fill="rgb(225,225,225)" filter="url(#bl2)"/>
<rect x="250.50" y="322.30" width="9.60" height="2.4" rx="1.20" ry="0.96" fill="rgb(223,223,223)" filter="url(#bl2)"/>
<rect x="262.30" y="322.30" width="9.60" height="2.4" rx="1.20" ry="0.96" fill="rgb(218,218,218)" filter="url(#bl2)"/>
<rect x="274.10" y="322.30" width="9.60" height="2.4" rx="1.20" ry="0.96" fill="rgb(211,211,211)" filter="url(#bl2)"/>
<rect x="285.90" y="322.30" width="9.60" height="2.4" rx="1.20" ry="0.96" fill="rgb(198,198,198)" filter="url(#bl2)"/>
<rect x="297.70" y="322.30" width="9.60" height="2.4" rx="1.20" ry="0.96" fill="rgb(182,182,182)" filter="url(#bl2)"/>
<rect x="309.50" y="322.30" width="9.60" height="2.4" rx="1.20" ry="0.96" fill="rgb(121,121,121)" filter="url(#bl2)"/>
<rect x="321.30" y="322.30" width="9.60" height="2.4" rx="1.20" ry="0.96" fill="rgb(102,102,102)" filter="url(#bl2)"/>
<rect x="238.70" y="341.75" width="9.60" height="1.7" rx="0.85" ry="0.68" fill="rgb(237,237,237)" filter="url(#bl2)"/>
<rect x="250.50" y="341.75" width="9.60" height="1.7" rx="0.85" ry="0.68" fill="rgb(235,235,235)" filter="url(#bl2)"/>
<rect x="262.30" y="341.75" width="9.60" height="1.7" rx="0.85" ry="0.68" fill="rgb(235,235,235)" filter="url(#bl2)"/>
<rect x="274.10" y="341.75" width="9.60" height="1.7" rx="0.85" ry="0.68" fill="rgb(232,232,232)" filter="url(#bl2)"/>
<rect x="285.90" y="341.75" width="9.60" height="1.7" rx="0.85" ry="0.68" fill="rgb(230,230,230)" filter="url(#bl2)"/>
<rect x="297.70" y="341.75" width="9.60" height="1.7" rx="0.85" ry="0.68" fill="rgb(227,227,227)" filter="url(#bl2)"/>
<rect x="309.50" y="341.75" width="9.60" height="1.7" rx="0.85" ry="0.68" fill="rgb(218,218,218)" filter="url(#bl2)"/>
<rect x="321.30" y="341.75" width="9.60" height="1.7" rx="0.85" ry="0.68" fill="rgb(198,198,198)" filter="url(#bl2)"/>
<rect x="238.70" y="350.50" width="9.60" height="2.0" rx="1.00" ry="0.80" fill="rgb(235,235,235)" filter="url(#bl2)"/>
<rect x="250.50" y="350.50" width="9.60" height="2.0" rx="1.00" ry="0.80" fill="rgb(232,232,232)" filter="url(#bl2)"/>
<rect x="262.30" y="350.50" width="9.60" height="2.0" rx="1.00" ry="0.80" fill="rgb(223,223,223)" filter="url(#bl2)"/>
<rect x="274.10" y="350.50" width="9.60" height="2.0" rx="1.00" ry="0.80" fill="rgb(218,218,218)" filter="url(#bl2)"/>
<rect x="285.90" y="350.50" width="9.60" height="2.0" rx="1.00" ry="0.80" fill="rgb(213,213,213)" filter="url(#bl2)"/>
<rect x="297.70" y="350.50" width="9.60" height="2.0" rx="1.00" ry="0.80" fill="rgb(206,206,206)" filter="url(#bl2)"/>
<rect x="309.50" y="350.50" width="9.60" height="2.0" rx="1.00" ry="0.80" fill="rgb(182,182,182)" filter="url(#bl2)"/>
<rect x="321.30" y="350.50" width="9.60" height="2.0" rx="1.00" ry="0.80" fill="rgb(165,165,165)" filter="url(#bl2)"/>
<rect x="225.8" y="286" width="106.19999999999999" height="78" fill="none" stroke="#111" stroke-width="1.3"/>
<line x1="222.20000000000002" y1="290.60" x2="225.8" y2="290.60" stroke="#333" stroke-width="0.85"/>
<line x1="222.20000000000002" y1="294.30" x2="225.8" y2="294.30" stroke="#333" stroke-width="0.85"/>
<line x1="222.20000000000002" y1="299.20" x2="225.8" y2="299.20" stroke="#333" stroke-width="0.85"/>
<line x1="222.20000000000002" y1="304.00" x2="225.8" y2="304.00" stroke="#333" stroke-width="0.85"/>
<line x1="222.20000000000002" y1="315.60" x2="225.8" y2="315.60" stroke="#333" stroke-width="0.85"/>
<line x1="222.20000000000002" y1="327.60" x2="225.8" y2="327.60" stroke="#333" stroke-width="0.85"/>
<line x1="222.20000000000002" y1="347.30" x2="225.8" y2="347.30" stroke="#333" stroke-width="0.85"/>
<line x1="222.20000000000002" y1="358.30" x2="225.8" y2="358.30" stroke="#333" stroke-width="0.85"/>
<text x="219.80" y="291.30" font-family="Liberation Sans, sans-serif" font-size="7.8" font-weight="normal" text-anchor="end" fill="#000" stroke="#000" stroke-width="0.12" >250</text>
<text x="219.80" y="297.10" font-family="Liberation Sans, sans-serif" font-size="7.8" font-weight="normal" text-anchor="end" fill="#000" stroke="#000" stroke-width="0.12" >150</text>
<text x="219.80" y="303.00" font-family="Liberation Sans, sans-serif" font-size="7.8" font-weight="normal" text-anchor="end" fill="#000" stroke="#000" stroke-width="0.12" >100</text>
<text x="219.80" y="309.00" font-family="Liberation Sans, sans-serif" font-size="7.8" font-weight="normal" text-anchor="end" fill="#000" stroke="#000" stroke-width="0.12" >75</text>
<text x="219.80" y="319.20" font-family="Liberation Sans, sans-serif" font-size="7.8" font-weight="normal" text-anchor="end" fill="#000" stroke="#000" stroke-width="0.12" >50</text>
<text x="219.80" y="330.70" font-family="Liberation Sans, sans-serif" font-size="7.8" font-weight="normal" text-anchor="end" fill="#000" stroke="#000" stroke-width="0.12" >37</text>
<text x="219.80" y="349.90" font-family="Liberation Sans, sans-serif" font-size="7.8" font-weight="normal" text-anchor="end" fill="#000" stroke="#000" stroke-width="0.12" >25</text>
<text x="219.80" y="360.90" font-family="Liberation Sans, sans-serif" font-size="7.8" font-weight="normal" text-anchor="end" fill="#000" stroke="#000" stroke-width="0.12" >20</text>
<path d="M332.7,305.70 L339.3,303.90 L339.3,307.50 Z" fill="#000"/>
<text x="342.30" y="308.60" font-family="Liberation Sans, sans-serif" font-size="8.6" font-weight="normal" text-anchor="start" fill="#000" stroke="#000" stroke-width="0.12" textLength="6.9" lengthAdjust="spacingAndGlyphs">IX</text>
<path d="M332.7,323.60 L339.3,321.80 L339.3,325.40 Z" fill="#000"/>
<text x="342.50" y="325.90" font-family="Liberation Serif, sans-serif" font-size="9.0" font-weight="normal" text-anchor="start" fill="#000" stroke="#000" stroke-width="0.1" >α</text>
<path d="M332.7,342.90 L339.3,341.10 L339.3,344.70 Z" fill="#000"/>
<text x="342.30" y="345.80" font-family="Liberation Sans, sans-serif" font-size="8.6" font-weight="normal" text-anchor="start" fill="#000" stroke="#000" stroke-width="0.12" textLength="11.6" lengthAdjust="spacingAndGlyphs">HC</text>
<path d="M332.7,351.60 L339.3,349.80 L339.3,353.40 Z" fill="#000"/>
<text x="342.30" y="354.50" font-family="Liberation Sans, sans-serif" font-size="8.6" font-weight="normal" text-anchor="start" fill="#000" stroke="#000" stroke-width="0.12" textLength="10.1" lengthAdjust="spacingAndGlyphs">LC</text>
<text x="263.00" y="375.50" font-family="Liberation Sans, sans-serif" font-size="9.6" textLength="31.8" lengthAdjust="spacingAndGlyphs" fill="#000" stroke="#000" stroke-width="0.25">Time (min)</text>
<text x="436.90" y="268.60" font-family="Liberation Sans, sans-serif" font-size="9.1" font-weight="normal" text-anchor="middle" fill="#000" stroke="#000" stroke-width="0.1" >Platypus PK-A3</text>
<text x="389.10" y="280.80" font-family="Liberation Sans, sans-serif" font-size="7.8" font-weight="normal" text-anchor="middle" fill="#000" stroke="#000" stroke-width="0.12" >0</text>
<text x="401.90" y="280.80" font-family="Liberation Sans, sans-serif" font-size="7.8" font-weight="normal" text-anchor="middle" fill="#000" stroke="#000" stroke-width="0.12" >1</text>
<text x="412.60" y="280.80" font-family="Liberation Sans, sans-serif" font-size="7.8" font-weight="normal" text-anchor="middle" fill="#000" stroke="#000" stroke-width="0.12" >2.5</text>
<text x="424.60" y="280.80" font-family="Liberation Sans, sans-serif" font-size="7.8" font-weight="normal" text-anchor="middle" fill="#000" stroke="#000" stroke-width="0.12" >5</text>
<text x="436.40" y="280.80" font-family="Liberation Sans, sans-serif" font-size="7.8" font-weight="normal" text-anchor="middle" fill="#000" stroke="#000" stroke-width="0.12" >10</text>
<text x="447.20" y="280.80" font-family="Liberation Sans, sans-serif" font-size="7.8" font-weight="normal" text-anchor="middle" fill="#000" stroke="#000" stroke-width="0.12" >20</text>
<text x="459.10" y="280.80" font-family="Liberation Sans, sans-serif" font-size="7.8" font-weight="normal" text-anchor="middle" fill="#000" stroke="#000" stroke-width="0.12" >30</text>
<text x="470.60" y="280.80" font-family="Liberation Sans, sans-serif" font-size="7.8" font-weight="normal" text-anchor="middle" fill="#000" stroke="#000" stroke-width="0.12" >60</text>
<text x="483.20" y="280.80" font-family="Liberation Sans, sans-serif" font-size="7.8" font-weight="normal" text-anchor="middle" fill="#000" stroke="#000" stroke-width="0.12" >120</text>
<rect x="383.6" y="285.8" width="106.59999999999997" height="78.19999999999999" fill="#fcfcfc"/>
<rect x="384.70" y="286.8" width="9.64" height="76.19999999999999" fill="url(#lanegrad)" filter="url(#bl1)"/>
<rect x="396.54" y="286.8" width="9.64" height="76.19999999999999" fill="url(#lanegrad)" filter="url(#bl1)"/>
<rect x="408.39" y="286.8" width="9.64" height="76.19999999999999" fill="url(#lanegrad)" filter="url(#bl1)"/>
<rect x="420.23" y="286.8" width="9.64" height="76.19999999999999" fill="url(#lanegrad)" filter="url(#bl1)"/>
<rect x="432.08" y="286.8" width="9.64" height="76.19999999999999" fill="url(#lanegrad)" filter="url(#bl1)"/>
<rect x="443.92" y="286.8" width="9.64" height="76.19999999999999" fill="url(#lanegrad)" filter="url(#bl1)"/>
<rect x="455.77" y="286.8" width="9.64" height="76.19999999999999" fill="url(#lanegrad)" filter="url(#bl1)"/>
<rect x="467.61" y="286.8" width="9.64" height="76.19999999999999" fill="url(#lanegrad)" filter="url(#bl1)"/>
<rect x="479.46" y="286.8" width="9.64" height="76.19999999999999" fill="url(#lanegrad)" filter="url(#bl1)"/>
<rect x="384.70" y="303.55" width="9.64" height="3.3" rx="1.65" ry="1.32" fill="rgb(0,0,0)" filter="url(#bl2)"/>
<rect x="396.54" y="303.55" width="9.64" height="3.3" rx="1.65" ry="1.32" fill="rgb(0,0,0)" filter="url(#bl2)"/>
<rect x="408.39" y="303.55" width="9.64" height="3.3" rx="1.65" ry="1.32" fill="rgb(0,0,0)" filter="url(#bl2)"/>
<rect x="420.23" y="303.55" width="9.64" height="3.3" rx="1.65" ry="1.32" fill="rgb(0,0,0)" filter="url(#bl2)"/>
<rect x="432.08" y="303.55" width="9.64" height="3.3" rx="1.65" ry="1.32" fill="rgb(0,0,0)" filter="url(#bl2)"/>
<rect x="443.92" y="303.55" width="9.64" height="3.3" rx="1.65" ry="1.32" fill="rgb(12,12,12)" filter="url(#bl2)"/>
<rect x="455.77" y="303.55" width="9.64" height="3.3" rx="1.65" ry="1.32" fill="rgb(24,24,24)" filter="url(#bl2)"/>
<rect x="467.61" y="303.55" width="9.64" height="3.3" rx="1.65" ry="1.32" fill="rgb(92,92,92)" filter="url(#bl2)"/>
<rect x="479.46" y="303.55" width="9.64" height="3.3" rx="1.65" ry="1.32" fill="rgb(194,194,194)" filter="url(#bl2)"/>
<rect x="396.54" y="319.25" width="9.64" height="1.5" rx="0.75" ry="0.60" fill="rgb(232,232,232)" filter="url(#bl2)"/>
<rect x="408.39" y="319.25" width="9.64" height="1.5" rx="0.75" ry="0.60" fill="rgb(232,232,232)" filter="url(#bl2)"/>
<rect x="420.23" y="319.25" width="9.64" height="1.5" rx="0.75" ry="0.60" fill="rgb(232,232,232)" filter="url(#bl2)"/>
<rect x="432.08" y="319.25" width="9.64" height="1.5" rx="0.75" ry="0.60" fill="rgb(230,230,230)" filter="url(#bl2)"/>
<rect x="443.92" y="319.25" width="9.64" height="1.5" rx="0.75" ry="0.60" fill="rgb(227,227,227)" filter="url(#bl2)"/>
<rect x="455.77" y="319.25" width="9.64" height="1.5" rx="0.75" ry="0.60" fill="rgb(225,225,225)" filter="url(#bl2)"/>
<rect x="467.61" y="319.25" width="9.64" height="1.5" rx="0.75" ry="0.60" fill="rgb(218,218,218)" filter="url(#bl2)"/>
<rect x="479.46" y="319.25" width="9.64" height="1.5" rx="0.75" ry="0.60" fill="rgb(223,223,223)" filter="url(#bl2)"/>
<rect x="384.70" y="322.30" width="9.64" height="2.4" rx="1.20" ry="0.96" fill="rgb(237,237,237)" filter="url(#bl2)"/>
<rect x="396.54" y="322.30" width="9.64" height="2.4" rx="1.20" ry="0.96" fill="rgb(218,218,218)" filter="url(#bl2)"/>
<rect x="408.39" y="322.30" width="9.64" height="2.4" rx="1.20" ry="0.96" fill="rgb(223,223,223)" filter="url(#bl2)"/>
<rect x="420.23" y="322.30" width="9.64" height="2.4" rx="1.20" ry="0.96" fill="rgb(223,223,223)" filter="url(#bl2)"/>
<rect x="432.08" y="322.30" width="9.64" height="2.4" rx="1.20" ry="0.96" fill="rgb(206,206,206)" filter="url(#bl2)"/>
<rect x="443.92" y="322.30" width="9.64" height="2.4" rx="1.20" ry="0.96" fill="rgb(194,194,194)" filter="url(#bl2)"/>
<rect x="455.77" y="322.30" width="9.64" height="2.4" rx="1.20" ry="0.96" fill="rgb(182,182,182)" filter="url(#bl2)"/>
<rect x="467.61" y="322.30" width="9.64" height="2.4" rx="1.20" ry="0.96" fill="rgb(116,116,116)" filter="url(#bl2)"/>
<rect x="479.46" y="322.30" width="9.64" height="2.4" rx="1.20" ry="0.96" fill="rgb(116,116,116)" filter="url(#bl2)"/>
<rect x="396.54" y="342.15" width="9.64" height="1.7" rx="0.85" ry="0.68" fill="rgb(235,235,235)" filter="url(#bl2)"/>
<rect x="408.39" y="342.15" width="9.64" height="1.7" rx="0.85" ry="0.68" fill="rgb(235,235,235)" filter="url(#bl2)"/>
<rect x="420.23" y="342.15" width="9.64" height="1.7" rx="0.85" ry="0.68" fill="rgb(235,235,235)" filter="url(#bl2)"/>
<rect x="432.08" y="342.15" width="9.64" height="1.7" rx="0.85" ry="0.68" fill="rgb(230,230,230)" filter="url(#bl2)"/>
<rect x="443.92" y="342.15" width="9.64" height="1.7" rx="0.85" ry="0.68" fill="rgb(223,223,223)" filter="url(#bl2)"/>
<rect x="455.77" y="342.15" width="9.64" height="1.7" rx="0.85" ry="0.68" fill="rgb(218,218,218)" filter="url(#bl2)"/>
<rect x="467.61" y="342.15" width="9.64" height="1.7" rx="0.85" ry="0.68" fill="rgb(206,206,206)" filter="url(#bl2)"/>
<rect x="479.46" y="342.15" width="9.64" height="1.7" rx="0.85" ry="0.68" fill="rgb(194,194,194)" filter="url(#bl2)"/>
<rect x="396.54" y="351.00" width="9.64" height="2.0" rx="1.00" ry="0.80" fill="rgb(230,230,230)" filter="url(#bl2)"/>
<rect x="408.39" y="351.00" width="9.64" height="2.0" rx="1.00" ry="0.80" fill="rgb(230,230,230)" filter="url(#bl2)"/>
<rect x="420.23" y="351.00" width="9.64" height="2.0" rx="1.00" ry="0.80" fill="rgb(230,230,230)" filter="url(#bl2)"/>
<rect x="432.08" y="351.00" width="9.64" height="2.0" rx="1.00" ry="0.80" fill="rgb(218,218,218)" filter="url(#bl2)"/>
<rect x="443.92" y="351.00" width="9.64" height="2.0" rx="1.00" ry="0.80" fill="rgb(206,206,206)" filter="url(#bl2)"/>
<rect x="455.77" y="351.00" width="9.64" height="2.0" rx="1.00" ry="0.80" fill="rgb(206,206,206)" filter="url(#bl2)"/>
<rect x="467.61" y="351.00" width="9.64" height="2.0" rx="1.00" ry="0.80" fill="rgb(169,169,169)" filter="url(#bl2)"/>
<rect x="479.46" y="351.00" width="9.64" height="2.0" rx="1.00" ry="0.80" fill="rgb(169,169,169)" filter="url(#bl2)"/>
<rect x="383.6" y="285.8" width="106.59999999999997" height="78.19999999999999" fill="none" stroke="#111" stroke-width="1.3"/>
<line x1="380.0" y1="290.60" x2="383.6" y2="290.60" stroke="#333" stroke-width="0.85"/>
<line x1="380.0" y1="294.30" x2="383.6" y2="294.30" stroke="#333" stroke-width="0.85"/>
<line x1="380.0" y1="299.20" x2="383.6" y2="299.20" stroke="#333" stroke-width="0.85"/>
<line x1="380.0" y1="304.00" x2="383.6" y2="304.00" stroke="#333" stroke-width="0.85"/>
<line x1="380.0" y1="315.60" x2="383.6" y2="315.60" stroke="#333" stroke-width="0.85"/>
<line x1="380.0" y1="327.60" x2="383.6" y2="327.60" stroke="#333" stroke-width="0.85"/>
<line x1="380.0" y1="347.30" x2="383.6" y2="347.30" stroke="#333" stroke-width="0.85"/>
<line x1="380.0" y1="358.30" x2="383.6" y2="358.30" stroke="#333" stroke-width="0.85"/>
<path d="M490.9,305.70 L497.5,303.90 L497.5,307.50 Z" fill="#000"/>
<text x="500.50" y="308.60" font-family="Liberation Sans, sans-serif" font-size="8.6" font-weight="normal" text-anchor="start" fill="#000" stroke="#000" stroke-width="0.12" textLength="6.9" lengthAdjust="spacingAndGlyphs">IX</text>
<path d="M490.9,323.60 L497.5,321.80 L497.5,325.40 Z" fill="#000"/>
<text x="500.70" y="325.90" font-family="Liberation Serif, sans-serif" font-size="9.0" font-weight="normal" text-anchor="start" fill="#000" stroke="#000" stroke-width="0.1" >α</text>
<path d="M490.9,343.00 L497.5,341.20 L497.5,344.80 Z" fill="#000"/>
<text x="500.50" y="345.90" font-family="Liberation Sans, sans-serif" font-size="8.6" font-weight="normal" text-anchor="start" fill="#000" stroke="#000" stroke-width="0.12" textLength="11.6" lengthAdjust="spacingAndGlyphs">HC</text>
<path d="M490.9,352.00 L497.5,350.20 L497.5,353.80 Z" fill="#000"/>
<text x="500.50" y="354.90" font-family="Liberation Sans, sans-serif" font-size="8.6" font-weight="normal" text-anchor="start" fill="#000" stroke="#000" stroke-width="0.12" textLength="10.1" lengthAdjust="spacingAndGlyphs">LC</text>
<text x="421.00" y="375.50" font-family="Liberation Sans, sans-serif" font-size="9.6" textLength="31.8" lengthAdjust="spacingAndGlyphs" fill="#000" stroke="#000" stroke-width="0.25">Time (min)</text>
<rect x="225.5" y="388.0" width="106.39999999999998" height="77.80000000000001" fill="none" stroke="#111" stroke-width="1.3"/>
<line x1="221.9" y1="461.10" x2="225.5" y2="461.10" stroke="#222" stroke-width="1"/>
<text x="219.70" y="463.90" font-family="Liberation Sans, sans-serif" font-size="7.8" font-weight="normal" text-anchor="end" fill="#000" stroke="#000" stroke-width="0.12" >0</text>
<line x1="221.9" y1="443.55" x2="225.5" y2="443.55" stroke="#222" stroke-width="1"/>
<text x="219.70" y="446.35" font-family="Liberation Sans, sans-serif" font-size="7.8" font-weight="normal" text-anchor="end" fill="#000" stroke="#000" stroke-width="0.12" >25</text>
<line x1="221.9" y1="426.00" x2="225.5" y2="426.00" stroke="#222" stroke-width="1"/>
<text x="219.70" y="428.80" font-family="Liberation Sans, sans-serif" font-size="7.8" font-weight="normal" text-anchor="end" fill="#000" stroke="#000" stroke-width="0.12" >50</text>
<line x1="221.9" y1="408.45" x2="225.5" y2="408.45" stroke="#222" stroke-width="1"/>
<text x="219.70" y="411.25" font-family="Liberation Sans, sans-serif" font-size="7.8" font-weight="normal" text-anchor="end" fill="#000" stroke="#000" stroke-width="0.12" >75</text>
<line x1="221.9" y1="390.90" x2="225.5" y2="390.90" stroke="#222" stroke-width="1"/>
<text x="219.70" y="393.70" font-family="Liberation Sans, sans-serif" font-size="7.8" font-weight="normal" text-anchor="end" fill="#000" stroke="#000" stroke-width="0.12" >100</text>
<line x1="229.30" y1="465.8" x2="229.30" y2="469.40000000000003" stroke="#222" stroke-width="1"/>
<text x="229.30" y="478.80" font-family="Liberation Sans, sans-serif" font-size="7.8" font-weight="normal" text-anchor="middle" fill="#000" stroke="#000" stroke-width="0.12" >0</text>
<line x1="245.62" y1="465.8" x2="245.62" y2="469.40000000000003" stroke="#222" stroke-width="1"/>
<text x="245.62" y="478.80" font-family="Liberation Sans, sans-serif" font-size="7.8" font-weight="normal" text-anchor="middle" fill="#000" stroke="#000" stroke-width="0.12" >20</text>
<line x1="261.93" y1="465.8" x2="261.93" y2="469.40000000000003" stroke="#222" stroke-width="1"/>
<text x="261.93" y="478.80" font-family="Liberation Sans, sans-serif" font-size="7.8" font-weight="normal" text-anchor="middle" fill="#000" stroke="#000" stroke-width="0.12" >40</text>
<line x1="278.25" y1="465.8" x2="278.25" y2="469.40000000000003" stroke="#222" stroke-width="1"/>
<text x="278.25" y="478.80" font-family="Liberation Sans, sans-serif" font-size="7.8" font-weight="normal" text-anchor="middle" fill="#000" stroke="#000" stroke-width="0.12" >60</text>
<line x1="294.57" y1="465.8" x2="294.57" y2="469.40000000000003" stroke="#222" stroke-width="1"/>
<text x="294.57" y="478.80" font-family="Liberation Sans, sans-serif" font-size="7.8" font-weight="normal" text-anchor="middle" fill="#000" stroke="#000" stroke-width="0.12" >80</text>
<line x1="310.88" y1="465.8" x2="310.88" y2="469.40000000000003" stroke="#222" stroke-width="1"/>
<text x="310.88" y="478.80" font-family="Liberation Sans, sans-serif" font-size="7.8" font-weight="normal" text-anchor="middle" fill="#000" stroke="#000" stroke-width="0.12" >100</text>
<line x1="327.20" y1="465.8" x2="327.20" y2="469.40000000000003" stroke="#222" stroke-width="1"/>
<text x="327.20" y="478.80" font-family="Liberation Sans, sans-serif" font-size="7.8" font-weight="normal" text-anchor="middle" fill="#000" stroke="#000" stroke-width="0.12" >120</text>
<text x="262.80" y="491.80" font-family="Liberation Sans, sans-serif" font-size="9.6" textLength="31.8" lengthAdjust="spacingAndGlyphs" fill="#000" stroke="#000" stroke-width="0.25">Time (min)</text>
<g transform="translate(196.50,426.90) rotate(-90)"><text x="0" y="3.42" font-family="Liberation Sans, sans-serif" font-size="9.5" text-anchor="middle" textLength="56" lengthAdjust="spacingAndGlyphs" fill="#000" stroke="#000" stroke-width="0.3">% maximum signal</text></g>
<path d="M229.30,460.96 L230.52,460.92 L231.75,460.89 L232.97,460.85 L234.20,460.82 L235.42,460.78 L236.64,460.74 L237.87,460.71 L239.09,460.67 L240.31,460.64 L241.54,460.60 L242.76,460.56 L243.99,460.53 L245.21,460.49 L246.43,460.46 L247.66,460.42 L248.88,460.38 L250.10,460.35 L251.33,460.31 L252.55,460.28 L253.78,460.24 L255.00,460.20 L256.22,460.17 L257.45,460.13 L258.67,460.10 L259.89,460.06 L261.12,460.02 L262.34,459.99 L263.56,459.95 L264.79,459.92 L266.01,459.88 L267.24,459.84 L268.46,459.81 L269.68,459.77 L270.91,459.74 L272.13,459.70 L273.36,459.66 L274.58,459.63 L275.80,459.59 L277.03,459.56 L278.25,459.52 L279.47,459.48 L280.70,459.45 L281.92,459.41 L283.14,459.38 L284.37,459.34 L285.59,459.30 L286.82,459.27 L288.04,459.23 L289.26,459.20 L290.49,459.16 L291.71,459.12 L292.94,459.09 L294.16,459.05 L295.38,459.02 L296.61,458.98 L297.83,458.94 L299.05,458.91 L300.28,458.87 L301.50,458.84 L302.73,458.80 L303.95,458.76 L305.17,458.73 L306.40,458.69 L307.62,458.66 L308.84,458.62 L310.07,458.59 L311.29,458.55 L312.51,458.51 L313.74,458.48 L314.96,458.44 L316.19,458.41 L317.41,458.37 L318.63,458.33 L319.86,458.30 L321.08,458.26 L322.30,458.23 L323.53,458.19 L324.75,458.15 L325.98,458.12 L327.20,458.08" fill="none" stroke="#36568f" stroke-width="1.2"/>
<path d="M229.30,390.90 L230.52,391.63 L231.75,392.34 L232.97,393.05 L234.20,393.75 L235.42,394.44 L236.64,395.12 L237.87,395.80 L239.09,396.46 L240.31,397.12 L241.54,397.77 L242.76,398.42 L243.99,399.05 L245.21,399.68 L246.43,400.30 L247.66,400.91 L248.88,401.52 L250.10,402.12 L251.33,402.71 L252.55,403.29 L253.78,403.87 L255.00,404.44 L256.22,405.01 L257.45,405.56 L258.67,406.11 L259.89,406.66 L261.12,407.19 L262.34,407.72 L263.56,408.25 L264.79,408.77 L266.01,409.28 L267.24,409.79 L268.46,410.29 L269.68,410.78 L270.91,411.27 L272.13,411.75 L273.36,412.23 L274.58,412.70 L275.80,413.16 L277.03,413.62 L278.25,414.08 L279.47,414.52 L280.70,414.97 L281.92,415.41 L283.14,415.84 L284.37,416.27 L285.59,416.69 L286.82,417.11 L288.04,417.52 L289.26,417.93 L290.49,418.33 L291.71,418.73 L292.94,419.12 L294.16,419.51 L295.38,419.89 L296.61,420.27 L297.83,420.65 L299.05,421.02 L300.28,421.38 L301.50,421.74 L302.73,422.10 L303.95,422.45 L305.17,422.80 L306.40,423.15 L307.62,423.49 L308.84,423.83 L310.07,424.16 L311.29,424.49 L312.51,424.81 L313.74,425.13 L314.96,425.45 L316.19,425.76 L317.41,426.07 L318.63,426.38 L319.86,426.68 L321.08,426.98 L322.30,427.27 L323.53,427.56 L324.75,427.85 L325.98,428.13 L327.20,428.42" fill="none" stroke="#b3163c" stroke-width="1.2"/>
<path d="M231.75,456.34 L232.97,455.86 L234.20,455.42 L235.42,454.99 L236.64,454.58 L237.87,454.19 L239.09,453.81 L240.31,453.43 L241.54,453.07 L242.76,452.71 L243.99,452.36 L245.21,452.01 L246.43,451.67 L247.66,451.34 L248.88,451.00 L250.10,450.68 L251.33,450.35 L252.55,450.03 L253.78,449.72 L255.00,449.40 L256.22,449.09 L257.45,448.79 L258.67,448.48 L259.89,448.18 L261.12,447.88 L262.34,447.58 L263.56,447.28 L264.79,446.99 L266.01,446.70 L267.24,446.41 L268.46,446.12 L269.68,445.84 L270.91,445.55 L272.13,445.27 L273.36,444.99 L274.58,444.71 L275.80,444.43 L277.03,444.16 L278.25,443.88 L279.47,443.61 L280.70,443.34 L281.92,443.06 L283.14,442.80 L284.37,442.53 L285.59,442.26 L286.82,441.99 L288.04,441.73 L289.26,441.46 L290.49,441.20 L291.71,440.94 L292.94,440.68 L294.16,440.42 L295.38,440.16 L296.61,439.90 L297.83,439.65 L299.05,439.39 L300.28,439.14 L301.50,438.88 L302.73,438.63 L303.95,438.38 L305.17,438.12 L306.40,437.87 L307.62,437.62 L308.84,437.37 L310.07,437.13 L311.29,436.88 L312.51,436.63 L313.74,436.39 L314.96,436.14 L316.19,435.90 L317.41,435.65 L318.63,435.41 L319.86,435.17 L321.08,434.92 L322.30,434.68 L323.53,434.44 L324.75,434.20 L325.98,433.96 L327.20,433.72" fill="none" stroke="#62b446" stroke-width="1.2"/>
<path d="M229.30,460.75 L230.52,460.60 L231.75,460.44 L232.97,460.29 L234.20,460.13 L235.42,459.98 L236.64,459.83 L237.87,459.67 L239.09,459.52 L240.31,459.37 L241.54,459.21 L242.76,459.06 L243.99,458.91 L245.21,458.75 L246.43,458.60 L247.66,458.45 L248.88,458.29 L250.10,458.14 L251.33,457.98 L252.55,457.83 L253.78,457.68 L255.00,457.52 L256.22,457.37 L257.45,457.22 L258.67,457.06 L259.89,456.91 L261.12,456.76 L262.34,456.60 L263.56,456.45 L264.79,456.30 L266.01,456.14 L267.24,455.99 L268.46,455.84 L269.68,455.68 L270.91,455.53 L272.13,455.37 L273.36,455.22 L274.58,455.07 L275.80,454.91 L277.03,454.76 L278.25,454.61 L279.47,454.45 L280.70,454.30 L281.92,454.15 L283.14,453.99 L284.37,453.84 L285.59,453.69 L286.82,453.53 L288.04,453.38 L289.26,453.22 L290.49,453.07 L291.71,452.92 L292.94,452.76 L294.16,452.61 L295.38,452.46 L296.61,452.30 L297.83,452.15 L299.05,452.00 L300.28,451.84 L301.50,451.69 L302.73,451.54 L303.95,451.38 L305.17,451.23 L306.40,451.07 L307.62,450.92 L308.84,450.77 L310.07,450.61 L311.29,450.46 L312.51,450.31 L313.74,450.15 L314.96,450.00 L316.19,449.85 L317.41,449.69 L318.63,449.54 L319.86,449.39 L321.08,449.23 L322.30,449.08 L323.53,448.92 L324.75,448.77 L325.98,448.62 L327.20,448.46" fill="none" stroke="#e8961e" stroke-width="1.2"/>
<path d="M229.30,463.40 L231.70,459.10 L226.90,459.10 Z" fill="#1c4282" stroke="#000" stroke-width="0.65"/>
<path d="M230.93,464.10 L233.33,459.80 L228.53,459.80 Z" fill="#1c4282" stroke="#000" stroke-width="0.65"/>
<path d="M233.38,464.10 L235.78,459.80 L230.98,459.80 Z" fill="#1c4282" stroke="#000" stroke-width="0.65"/>
<path d="M237.46,463.75 L239.86,459.45 L235.06,459.45 Z" fill="#1c4282" stroke="#000" stroke-width="0.65"/>
<path d="M245.62,464.10 L248.02,459.80 L243.22,459.80 Z" fill="#1c4282" stroke="#000" stroke-width="0.65"/>
<path d="M261.93,462.21 L264.33,457.91 L259.53,457.91 Z" fill="#1c4282" stroke="#000" stroke-width="0.65"/>
<path d="M278.25,461.65 L280.65,457.35 L275.85,457.35 Z" fill="#1c4282" stroke="#000" stroke-width="0.65"/>
<path d="M327.20,460.38 L329.60,456.08 L324.80,456.08 Z" fill="#1c4282" stroke="#000" stroke-width="0.65"/>
<path d="M229.30,388.60 L231.70,392.90 L226.90,392.90 Z" fill="#b4102e" stroke="#000" stroke-width="0.65"/>
<path d="M230.93,390.00 L233.33,394.30 L228.53,394.30 Z" fill="#b4102e" stroke="#000" stroke-width="0.65"/>
<path d="M233.38,391.76 L235.78,396.06 L230.98,396.06 Z" fill="#b4102e" stroke="#000" stroke-width="0.65"/>
<path d="M237.46,394.92 L239.86,399.22 L235.06,399.22 Z" fill="#b4102e" stroke="#000" stroke-width="0.65"/>
<path d="M245.62,397.02 L248.02,401.32 L243.22,401.32 Z" fill="#b4102e" stroke="#000" stroke-width="0.65"/>
<path d="M261.93,405.24 L264.33,409.54 L259.53,409.54 Z" fill="#b4102e" stroke="#000" stroke-width="0.65"/>
<path d="M278.25,411.77 L280.65,416.07 L275.85,416.07 Z" fill="#b4102e" stroke="#000" stroke-width="0.65"/>
<path d="M327.20,426.30 L329.60,430.60 L324.80,430.60 Z" fill="#b4102e" stroke="#000" stroke-width="0.65"/>
<rect x="227.55" y="457.67" width="3.5" height="3.5" fill="#58a840" stroke="#000" stroke-width="0.65"/>
<rect x="229.18" y="455.14" width="3.5" height="3.5" fill="#58a840" stroke="#000" stroke-width="0.65"/>
<rect x="231.63" y="455.14" width="3.5" height="3.5" fill="#58a840" stroke="#000" stroke-width="0.65"/>
<rect x="235.71" y="453.03" width="3.5" height="3.5" fill="#58a840" stroke="#000" stroke-width="0.65"/>
<rect x="243.87" y="449.52" width="3.5" height="3.5" fill="#58a840" stroke="#000" stroke-width="0.65"/>
<rect x="260.18" y="446.01" width="3.5" height="3.5" fill="#58a840" stroke="#000" stroke-width="0.65"/>
<rect x="276.50" y="442.85" width="3.5" height="3.5" fill="#58a840" stroke="#000" stroke-width="0.65"/>
<rect x="325.45" y="431.76" width="3.5" height="3.5" fill="#58a840" stroke="#000" stroke-width="0.65"/>
<circle cx="229.30" cy="462.50" r="1.85" fill="#f0a020" stroke="#000" stroke-width="0.65"/>
<circle cx="230.93" cy="461.10" r="1.85" fill="#f0a020" stroke="#000" stroke-width="0.65"/>
<circle cx="233.38" cy="460.40" r="1.85" fill="#f0a020" stroke="#000" stroke-width="0.65"/>
<circle cx="237.46" cy="460.12" r="1.85" fill="#f0a020" stroke="#000" stroke-width="0.65"/>
<circle cx="245.62" cy="458.99" r="1.85" fill="#f0a020" stroke="#000" stroke-width="0.65"/>
<circle cx="261.93" cy="457.59" r="1.85" fill="#f0a020" stroke="#000" stroke-width="0.65"/>
<circle cx="278.25" cy="453.52" r="1.85" fill="#f0a020" stroke="#000" stroke-width="0.65"/>
<circle cx="327.20" cy="448.46" r="1.85" fill="#f0a020" stroke="#000" stroke-width="0.65"/>
<rect x="384.0" y="387.4" width="105.39999999999998" height="78.30000000000001" fill="none" stroke="#111" stroke-width="1.3"/>
<line x1="380.4" y1="461.00" x2="384.0" y2="461.00" stroke="#222" stroke-width="1"/>
<text x="378.20" y="463.80" font-family="Liberation Sans, sans-serif" font-size="7.8" font-weight="normal" text-anchor="end" fill="#000" stroke="#000" stroke-width="0.12" >0</text>
<line x1="380.4" y1="443.45" x2="384.0" y2="443.45" stroke="#222" stroke-width="1"/>
<text x="378.20" y="446.25" font-family="Liberation Sans, sans-serif" font-size="7.8" font-weight="normal" text-anchor="end" fill="#000" stroke="#000" stroke-width="0.12" >25</text>
<line x1="380.4" y1="425.90" x2="384.0" y2="425.90" stroke="#222" stroke-width="1"/>
<text x="378.20" y="428.70" font-family="Liberation Sans, sans-serif" font-size="7.8" font-weight="normal" text-anchor="end" fill="#000" stroke="#000" stroke-width="0.12" >50</text>
<line x1="380.4" y1="408.35" x2="384.0" y2="408.35" stroke="#222" stroke-width="1"/>
<text x="378.20" y="411.15" font-family="Liberation Sans, sans-serif" font-size="7.8" font-weight="normal" text-anchor="end" fill="#000" stroke="#000" stroke-width="0.12" >75</text>
<line x1="380.4" y1="390.80" x2="384.0" y2="390.80" stroke="#222" stroke-width="1"/>
<text x="378.20" y="393.60" font-family="Liberation Sans, sans-serif" font-size="7.8" font-weight="normal" text-anchor="end" fill="#000" stroke="#000" stroke-width="0.12" >100</text>
<line x1="387.00" y1="465.7" x2="387.00" y2="469.3" stroke="#222" stroke-width="1"/>
<text x="387.00" y="478.70" font-family="Liberation Sans, sans-serif" font-size="7.8" font-weight="normal" text-anchor="middle" fill="#000" stroke="#000" stroke-width="0.12" >0</text>
<line x1="403.43" y1="465.7" x2="403.43" y2="469.3" stroke="#222" stroke-width="1"/>
<text x="403.43" y="478.70" font-family="Liberation Sans, sans-serif" font-size="7.8" font-weight="normal" text-anchor="middle" fill="#000" stroke="#000" stroke-width="0.12" >20</text>
<line x1="419.87" y1="465.7" x2="419.87" y2="469.3" stroke="#222" stroke-width="1"/>
<text x="419.87" y="478.70" font-family="Liberation Sans, sans-serif" font-size="7.8" font-weight="normal" text-anchor="middle" fill="#000" stroke="#000" stroke-width="0.12" >40</text>
<line x1="436.30" y1="465.7" x2="436.30" y2="469.3" stroke="#222" stroke-width="1"/>
<text x="436.30" y="478.70" font-family="Liberation Sans, sans-serif" font-size="7.8" font-weight="normal" text-anchor="middle" fill="#000" stroke="#000" stroke-width="0.12" >60</text>
<line x1="452.73" y1="465.7" x2="452.73" y2="469.3" stroke="#222" stroke-width="1"/>
<text x="452.73" y="478.70" font-family="Liberation Sans, sans-serif" font-size="7.8" font-weight="normal" text-anchor="middle" fill="#000" stroke="#000" stroke-width="0.12" >80</text>
<line x1="469.17" y1="465.7" x2="469.17" y2="469.3" stroke="#222" stroke-width="1"/>
<text x="469.17" y="478.70" font-family="Liberation Sans, sans-serif" font-size="7.8" font-weight="normal" text-anchor="middle" fill="#000" stroke="#000" stroke-width="0.12" >100</text>
<line x1="485.60" y1="465.7" x2="485.60" y2="469.3" stroke="#222" stroke-width="1"/>
<text x="485.60" y="478.70" font-family="Liberation Sans, sans-serif" font-size="7.8" font-weight="normal" text-anchor="middle" fill="#000" stroke="#000" stroke-width="0.12" >120</text>
<text x="420.80" y="491.70" font-family="Liberation Sans, sans-serif" font-size="9.6" textLength="31.8" lengthAdjust="spacingAndGlyphs" fill="#000" stroke="#000" stroke-width="0.25">Time (min)</text>
<path d="M387.00,461.56 L388.23,461.49 L389.46,461.42 L390.70,461.35 L391.93,461.27 L393.16,461.20 L394.39,461.13 L395.63,461.06 L396.86,460.99 L398.09,460.91 L399.32,460.84 L400.56,460.77 L401.79,460.70 L403.02,460.63 L404.25,460.55 L405.49,460.48 L406.72,460.41 L407.95,460.34 L409.19,460.27 L410.42,460.19 L411.65,460.12 L412.88,460.05 L414.12,459.98 L415.35,459.91 L416.58,459.83 L417.81,459.76 L419.04,459.69 L420.28,459.62 L421.51,459.55 L422.74,459.47 L423.97,459.40 L425.21,459.33 L426.44,459.26 L427.67,459.19 L428.90,459.12 L430.14,459.04 L431.37,458.97 L432.60,458.90 L433.83,458.83 L435.07,458.76 L436.30,458.68 L437.53,458.61 L438.76,458.54 L440.00,458.47 L441.23,458.40 L442.46,458.32 L443.69,458.25 L444.93,458.18 L446.16,458.11 L447.39,458.04 L448.62,457.96 L449.86,457.89 L451.09,457.82 L452.32,457.75 L453.55,457.68 L454.79,457.60 L456.02,457.53 L457.25,457.46 L458.48,457.39 L459.72,457.32 L460.95,457.24 L462.18,457.17 L463.41,457.10 L464.65,457.03 L465.88,456.96 L467.11,456.88 L468.34,456.81 L469.58,456.74 L470.81,456.67 L472.04,456.60 L473.27,456.52 L474.51,456.45 L475.74,456.38 L476.97,456.31 L478.20,456.24 L479.44,456.16 L480.67,456.09 L481.90,456.02 L483.13,455.95 L484.37,455.88 L485.60,455.81" fill="none" stroke="#36568f" stroke-width="1.2"/>
<path d="M387.00,390.80 L388.23,391.63 L389.46,392.44 L390.70,393.24 L391.93,394.03 L393.16,394.81 L394.39,395.58 L395.63,396.33 L396.86,397.07 L398.09,397.81 L399.32,398.53 L400.56,399.24 L401.79,399.94 L403.02,400.62 L404.25,401.30 L405.49,401.97 L406.72,402.63 L407.95,403.28 L409.19,403.91 L410.42,404.54 L411.65,405.16 L412.88,405.77 L414.12,406.37 L415.35,406.96 L416.58,407.54 L417.81,408.12 L419.04,408.68 L420.28,409.24 L421.51,409.79 L422.74,410.33 L423.97,410.86 L425.21,411.38 L426.44,411.90 L427.67,412.40 L428.90,412.90 L430.14,413.39 L431.37,413.88 L432.60,414.36 L433.83,414.83 L435.07,415.29 L436.30,415.75 L437.53,416.20 L438.76,416.64 L440.00,417.07 L441.23,417.50 L442.46,417.92 L443.69,418.34 L444.93,418.75 L446.16,419.15 L447.39,419.55 L448.62,419.94 L449.86,420.33 L451.09,420.71 L452.32,421.08 L453.55,421.45 L454.79,421.81 L456.02,422.17 L457.25,422.52 L458.48,422.87 L459.72,423.21 L460.95,423.55 L462.18,423.88 L463.41,424.20 L464.65,424.53 L465.88,424.84 L467.11,425.15 L468.34,425.46 L469.58,425.76 L470.81,426.06 L472.04,426.35 L473.27,426.64 L474.51,426.93 L475.74,427.21 L476.97,427.48 L478.20,427.75 L479.44,428.02 L480.67,428.28 L481.90,428.54 L483.13,428.80 L484.37,429.05 L485.60,429.30" fill="none" stroke="#b3163c" stroke-width="1.2"/>
<path d="M389.46,455.69 L390.70,455.09 L391.93,454.56 L393.16,454.06 L394.39,453.60 L395.63,453.15 L396.86,452.73 L398.09,452.32 L399.32,451.92 L400.56,451.54 L401.79,451.16 L403.02,450.80 L404.25,450.44 L405.49,450.10 L406.72,449.75 L407.95,449.42 L409.19,449.09 L410.42,448.76 L411.65,448.45 L412.88,448.13 L414.12,447.82 L415.35,447.52 L416.58,447.21 L417.81,446.92 L419.04,446.62 L420.28,446.33 L421.51,446.04 L422.74,445.76 L423.97,445.48 L425.21,445.20 L426.44,444.92 L427.67,444.65 L428.90,444.38 L430.14,444.11 L431.37,443.84 L432.60,443.58 L433.83,443.32 L435.07,443.06 L436.30,442.80 L437.53,442.54 L438.76,442.29 L440.00,442.03 L441.23,441.78 L442.46,441.53 L443.69,441.29 L444.93,441.04 L446.16,440.80 L447.39,440.55 L448.62,440.31 L449.86,440.07 L451.09,439.84 L452.32,439.60 L453.55,439.36 L454.79,439.13 L456.02,438.90 L457.25,438.66 L458.48,438.43 L459.72,438.20 L460.95,437.98 L462.18,437.75 L463.41,437.52 L464.65,437.30 L465.88,437.07 L467.11,436.85 L468.34,436.63 L469.58,436.41 L470.81,436.19 L472.04,435.97 L473.27,435.75 L474.51,435.53 L475.74,435.32 L476.97,435.10 L478.20,434.89 L479.44,434.68 L480.67,434.46 L481.90,434.25 L483.13,434.04 L484.37,433.83 L485.60,433.62" fill="none" stroke="#62b446" stroke-width="1.2"/>
<path d="M387.00,459.95 L388.23,459.79 L389.46,459.63 L390.70,459.47 L391.93,459.31 L393.16,459.15 L394.39,458.99 L395.63,458.83 L396.86,458.67 L398.09,458.51 L399.32,458.35 L400.56,458.19 L401.79,458.03 L403.02,457.87 L404.25,457.71 L405.49,457.55 L406.72,457.39 L407.95,457.23 L409.19,457.07 L410.42,456.91 L411.65,456.75 L412.88,456.59 L414.12,456.43 L415.35,456.27 L416.58,456.11 L417.81,455.95 L419.04,455.79 L420.28,455.63 L421.51,455.48 L422.74,455.32 L423.97,455.16 L425.21,455.00 L426.44,454.84 L427.67,454.68 L428.90,454.52 L430.14,454.36 L431.37,454.20 L432.60,454.04 L433.83,453.88 L435.07,453.72 L436.30,453.56 L437.53,453.40 L438.76,453.24 L440.00,453.08 L441.23,452.92 L442.46,452.76 L443.69,452.60 L444.93,452.44 L446.16,452.28 L447.39,452.12 L448.62,451.96 L449.86,451.80 L451.09,451.64 L452.32,451.48 L453.55,451.32 L454.79,451.16 L456.02,451.00 L457.25,450.84 L458.48,450.68 L459.72,450.52 L460.95,450.36 L462.18,450.20 L463.41,450.05 L464.65,449.89 L465.88,449.73 L467.11,449.57 L468.34,449.41 L469.58,449.25 L470.81,449.09 L472.04,448.93 L473.27,448.77 L474.51,448.61 L475.74,448.45 L476.97,448.29 L478.20,448.13 L479.44,447.97 L480.67,447.81 L481.90,447.65 L483.13,447.49 L484.37,447.33 L485.60,447.17" fill="none" stroke="#e8961e" stroke-width="1.2"/>
<path d="M387.00,461.19 L389.40,456.89 L384.60,456.89 Z" fill="#1c4282" stroke="#000" stroke-width="0.65"/>
<path d="M388.64,462.60 L391.04,458.30 L386.24,458.30 Z" fill="#1c4282" stroke="#000" stroke-width="0.65"/>
<path d="M391.11,463.30 L393.51,459.00 L388.71,459.00 Z" fill="#1c4282" stroke="#000" stroke-width="0.65"/>
<path d="M395.22,464.70 L397.62,460.40 L392.82,460.40 Z" fill="#1c4282" stroke="#000" stroke-width="0.65"/>
<path d="M403.43,463.30 L405.83,459.00 L401.03,459.00 Z" fill="#1c4282" stroke="#000" stroke-width="0.65"/>
<path d="M419.87,462.60 L422.27,458.30 L417.47,458.30 Z" fill="#1c4282" stroke="#000" stroke-width="0.65"/>
<path d="M436.30,460.84 L438.70,456.54 L433.90,456.54 Z" fill="#1c4282" stroke="#000" stroke-width="0.65"/>
<path d="M485.60,458.11 L488.00,453.81 L483.20,453.81 Z" fill="#1c4282" stroke="#000" stroke-width="0.65"/>
<path d="M387.00,388.50 L389.40,392.80 L384.60,392.80 Z" fill="#b4102e" stroke="#000" stroke-width="0.65"/>
<path d="M388.64,391.66 L391.04,395.96 L386.24,395.96 Z" fill="#b4102e" stroke="#000" stroke-width="0.65"/>
<path d="M391.11,390.96 L393.51,395.26 L388.71,395.26 Z" fill="#b4102e" stroke="#000" stroke-width="0.65"/>
<path d="M395.22,394.12 L397.62,398.42 L392.82,398.42 Z" fill="#b4102e" stroke="#000" stroke-width="0.65"/>
<path d="M403.43,398.33 L405.83,402.63 L401.03,402.63 Z" fill="#b4102e" stroke="#000" stroke-width="0.65"/>
<path d="M419.87,406.05 L422.27,410.35 L417.47,410.35 Z" fill="#b4102e" stroke="#000" stroke-width="0.65"/>
<path d="M436.30,415.53 L438.70,419.83 L433.90,419.83 Z" fill="#b4102e" stroke="#000" stroke-width="0.65"/>
<path d="M485.60,426.69 L488.00,430.99 L483.20,430.99 Z" fill="#b4102e" stroke="#000" stroke-width="0.65"/>
<rect x="385.25" y="456.44" width="3.5" height="3.5" fill="#58a840" stroke="#000" stroke-width="0.65"/>
<rect x="386.89" y="454.83" width="3.5" height="3.5" fill="#58a840" stroke="#000" stroke-width="0.65"/>
<rect x="389.36" y="452.58" width="3.5" height="3.5" fill="#58a840" stroke="#000" stroke-width="0.65"/>
<rect x="393.47" y="451.95" width="3.5" height="3.5" fill="#58a840" stroke="#000" stroke-width="0.65"/>
<rect x="401.68" y="448.02" width="3.5" height="3.5" fill="#58a840" stroke="#000" stroke-width="0.65"/>
<rect x="418.12" y="443.38" width="3.5" height="3.5" fill="#58a840" stroke="#000" stroke-width="0.65"/>
<rect x="434.55" y="441.98" width="3.5" height="3.5" fill="#58a840" stroke="#000" stroke-width="0.65"/>
<rect x="483.85" y="431.87" width="3.5" height="3.5" fill="#58a840" stroke="#000" stroke-width="0.65"/>
<circle cx="387.00" cy="462.19" r="1.85" fill="#f0a020" stroke="#000" stroke-width="0.65"/>
<circle cx="388.64" cy="459.88" r="1.85" fill="#f0a020" stroke="#000" stroke-width="0.65"/>
<circle cx="391.11" cy="457.35" r="1.85" fill="#f0a020" stroke="#000" stroke-width="0.65"/>
<circle cx="395.22" cy="458.61" r="1.85" fill="#f0a020" stroke="#000" stroke-width="0.65"/>
<circle cx="403.43" cy="459.03" r="1.85" fill="#f0a020" stroke="#000" stroke-width="0.65"/>
<circle cx="419.87" cy="454.40" r="1.85" fill="#f0a020" stroke="#000" stroke-width="0.65"/>
<circle cx="436.30" cy="452.23" r="1.85" fill="#f0a020" stroke="#000" stroke-width="0.65"/>
<circle cx="485.60" cy="447.17" r="1.85" fill="#f0a020" stroke="#000" stroke-width="0.65"/>
</svg></body></html>
